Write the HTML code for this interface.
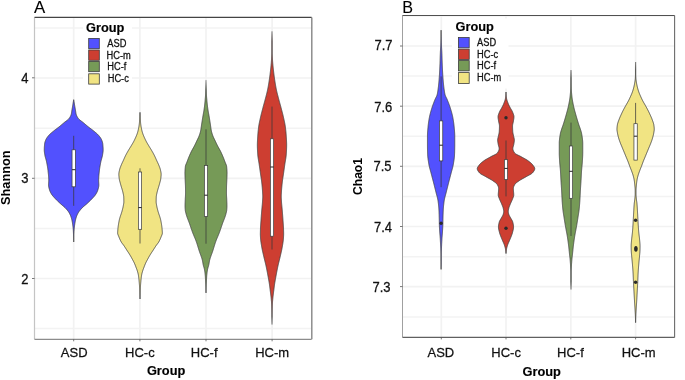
<!DOCTYPE html><html><head><meta charset="utf-8"><style>html,body{margin:0;padding:0;background:#fff;width:685px;height:380px;overflow:hidden}svg{display:block;will-change:transform}</style></head><body>
<svg width="685" height="380" viewBox="0 0 685 380">
<rect width="685" height="380" fill="#fff"/>
<line x1="34.5" y1="28.0" x2="311.6" y2="28.0" stroke="#f3f3f3" stroke-width="1.5"/>
<line x1="34.5" y1="128.2" x2="311.6" y2="128.2" stroke="#f3f3f3" stroke-width="1.5"/>
<line x1="34.5" y1="228.4" x2="311.6" y2="228.4" stroke="#f3f3f3" stroke-width="1.5"/>
<line x1="34.5" y1="328.6" x2="311.6" y2="328.6" stroke="#f3f3f3" stroke-width="1.5"/>
<line x1="34.5" y1="78.0" x2="311.6" y2="78.0" stroke="#f2f2f2" stroke-width="1.7"/>
<line x1="34.5" y1="178.3" x2="311.6" y2="178.3" stroke="#f2f2f2" stroke-width="1.7"/>
<line x1="34.5" y1="278.5" x2="311.6" y2="278.5" stroke="#f2f2f2" stroke-width="1.7"/>
<line x1="73.7" y1="17.4" x2="73.7" y2="339.3" stroke="#f2f2f2" stroke-width="1.7"/>
<line x1="139.9" y1="17.4" x2="139.9" y2="339.3" stroke="#f2f2f2" stroke-width="1.7"/>
<line x1="206.0" y1="17.4" x2="206.0" y2="339.3" stroke="#f2f2f2" stroke-width="1.7"/>
<line x1="272.1" y1="17.4" x2="272.1" y2="339.3" stroke="#f2f2f2" stroke-width="1.7"/>
<linearGradient id="g1" gradientUnits="userSpaceOnUse" x1="0" y1="99.7" x2="0" y2="242"><stop offset="0" stop-color="#404040"/><stop offset="0.0070" stop-color="#404040"/><stop offset="0.9930" stop-color="#404040"/><stop offset="1" stop-color="#404040"/></linearGradient>
<path d="M73.70,99.70 L73.79,100.20 L73.88,100.70 L73.96,101.20 L74.05,101.70 L74.13,102.20 L74.22,102.70 L74.30,103.20 L74.38,103.70 L74.46,104.20 L74.54,104.70 L74.62,105.20 L74.70,105.70 L74.78,106.20 L74.87,106.70 L74.96,107.20 L75.05,107.70 L75.13,108.20 L75.22,108.70 L75.31,109.20 L75.40,109.70 L75.48,110.20 L75.56,110.70 L75.63,111.20 L75.70,111.70 L75.77,112.20 L75.85,112.70 L75.94,113.20 L76.03,113.70 L76.15,114.20 L76.29,114.70 L76.47,115.20 L76.67,115.70 L76.91,116.20 L77.17,116.70 L77.46,117.20 L77.78,117.70 L78.11,118.20 L78.48,118.70 L78.95,119.20 L79.50,119.70 L80.11,120.20 L80.76,120.70 L81.43,121.20 L82.10,121.70 L82.76,122.20 L83.37,122.70 L83.96,123.20 L84.55,123.70 L85.13,124.20 L85.72,124.70 L86.31,125.20 L86.91,125.70 L87.51,126.20 L88.13,126.70 L88.75,127.20 L89.40,127.70 L90.07,128.20 L90.74,128.70 L91.41,129.20 L92.07,129.70 L92.72,130.20 L93.36,130.70 L93.97,131.20 L94.58,131.70 L95.19,132.20 L95.79,132.70 L96.38,133.20 L96.95,133.70 L97.50,134.20 L98.00,134.70 L98.46,135.20 L98.89,135.70 L99.30,136.20 L99.70,136.70 L100.08,137.20 L100.43,137.70 L100.76,138.20 L101.06,138.70 L101.31,139.20 L101.54,139.70 L101.74,140.20 L101.94,140.70 L102.13,141.20 L102.30,141.70 L102.45,142.20 L102.58,142.70 L102.68,143.20 L102.75,143.70 L102.80,144.20 L102.86,144.70 L102.90,145.20 L102.95,145.70 L102.99,146.20 L103.03,146.70 L103.06,147.20 L103.09,147.70 L103.11,148.20 L103.13,148.70 L103.14,149.20 L103.15,149.70 L103.15,150.20 L103.13,150.70 L103.10,151.20 L103.05,151.70 L102.99,152.20 L102.92,152.70 L102.84,153.20 L102.76,153.70 L102.68,154.20 L102.60,154.70 L102.52,155.20 L102.42,155.70 L102.31,156.20 L102.20,156.70 L102.07,157.20 L101.93,157.70 L101.79,158.20 L101.65,158.70 L101.51,159.20 L101.36,159.70 L101.23,160.20 L101.10,160.70 L100.98,161.20 L100.87,161.70 L100.77,162.20 L100.67,162.70 L100.57,163.20 L100.48,163.70 L100.38,164.20 L100.29,164.70 L100.20,165.20 L100.11,165.70 L100.02,166.20 L99.94,166.70 L99.86,167.20 L99.78,167.70 L99.70,168.20 L99.63,168.70 L99.56,169.20 L99.50,169.70 L99.44,170.20 L99.38,170.70 L99.33,171.20 L99.28,171.70 L99.22,172.20 L99.17,172.70 L99.12,173.20 L99.06,173.70 L99.01,174.20 L98.96,174.70 L98.92,175.20 L98.87,175.70 L98.83,176.20 L98.79,176.70 L98.76,177.20 L98.73,177.70 L98.70,178.20 L98.68,178.70 L98.66,179.20 L98.65,179.70 L98.65,180.20 L98.66,180.70 L98.67,181.20 L98.70,181.70 L98.73,182.20 L98.76,182.70 L98.79,183.20 L98.81,183.70 L98.84,184.20 L98.85,184.70 L98.85,185.20 L98.82,185.70 L98.77,186.20 L98.69,186.70 L98.59,187.20 L98.48,187.70 L98.36,188.20 L98.22,188.70 L98.08,189.20 L97.94,189.70 L97.79,190.20 L97.62,190.70 L97.43,191.20 L97.21,191.70 L96.97,192.20 L96.71,192.70 L96.44,193.20 L96.15,193.70 L95.85,194.20 L95.53,194.70 L95.16,195.20 L94.77,195.70 L94.35,196.20 L93.91,196.70 L93.45,197.20 L92.99,197.70 L92.53,198.20 L92.07,198.70 L91.59,199.20 L91.11,199.70 L90.61,200.20 L90.10,200.70 L89.59,201.20 L89.06,201.70 L88.53,202.20 L88.00,202.70 L87.46,203.20 L86.92,203.70 L86.36,204.20 L85.77,204.70 L85.17,205.20 L84.57,205.70 L83.98,206.20 L83.41,206.70 L82.86,207.20 L82.34,207.70 L81.86,208.20 L81.40,208.70 L80.94,209.20 L80.50,209.70 L80.08,210.20 L79.67,210.70 L79.28,211.20 L78.92,211.70 L78.59,212.20 L78.29,212.70 L78.01,213.20 L77.75,213.70 L77.49,214.20 L77.26,214.70 L77.03,215.20 L76.82,215.70 L76.63,216.20 L76.45,216.70 L76.29,217.20 L76.13,217.70 L75.98,218.20 L75.84,218.70 L75.71,219.20 L75.58,219.70 L75.47,220.20 L75.36,220.70 L75.26,221.20 L75.17,221.70 L75.08,222.20 L75.00,222.70 L74.92,223.20 L74.84,223.70 L74.77,224.20 L74.69,224.70 L74.62,225.20 L74.56,225.70 L74.49,226.20 L74.43,226.70 L74.37,227.20 L74.31,227.70 L74.26,228.20 L74.22,228.70 L74.17,229.20 L74.13,229.70 L74.10,230.20 L74.07,230.70 L74.04,231.20 L74.01,231.70 L73.99,232.20 L73.97,232.70 L73.94,233.20 L73.92,233.70 L73.90,234.20 L73.87,234.70 L73.85,235.20 L73.83,235.70 L73.82,236.20 L73.80,236.70 L73.78,237.20 L73.77,237.70 L73.75,238.20 L73.74,238.70 L73.73,239.20 L73.72,239.70 L73.71,240.20 L73.71,240.70 L73.70,241.20 L73.70,241.70 L73.70,242.00 L73.70,242.00 L73.70,241.70 L73.70,241.20 L73.69,240.70 L73.69,240.20 L73.68,239.70 L73.67,239.20 L73.66,238.70 L73.65,238.20 L73.63,237.70 L73.62,237.20 L73.60,236.70 L73.58,236.20 L73.57,235.70 L73.55,235.20 L73.53,234.70 L73.50,234.20 L73.48,233.70 L73.46,233.20 L73.43,232.70 L73.41,232.20 L73.39,231.70 L73.36,231.20 L73.33,230.70 L73.30,230.20 L73.27,229.70 L73.23,229.20 L73.18,228.70 L73.14,228.20 L73.09,227.70 L73.03,227.20 L72.97,226.70 L72.91,226.20 L72.84,225.70 L72.78,225.20 L72.71,224.70 L72.63,224.20 L72.56,223.70 L72.48,223.20 L72.40,222.70 L72.32,222.20 L72.23,221.70 L72.14,221.20 L72.04,220.70 L71.93,220.20 L71.82,219.70 L71.69,219.20 L71.56,218.70 L71.42,218.20 L71.27,217.70 L71.11,217.20 L70.95,216.70 L70.77,216.20 L70.58,215.70 L70.37,215.20 L70.14,214.70 L69.91,214.20 L69.65,213.70 L69.39,213.20 L69.11,212.70 L68.81,212.20 L68.48,211.70 L68.12,211.20 L67.73,210.70 L67.32,210.20 L66.90,209.70 L66.46,209.20 L66.00,208.70 L65.54,208.20 L65.06,207.70 L64.54,207.20 L63.99,206.70 L63.42,206.20 L62.83,205.70 L62.23,205.20 L61.63,204.70 L61.04,204.20 L60.48,203.70 L59.94,203.20 L59.40,202.70 L58.87,202.20 L58.34,201.70 L57.81,201.20 L57.30,200.70 L56.79,200.20 L56.29,199.70 L55.81,199.20 L55.33,198.70 L54.87,198.20 L54.41,197.70 L53.95,197.20 L53.49,196.70 L53.05,196.20 L52.63,195.70 L52.24,195.20 L51.87,194.70 L51.55,194.20 L51.25,193.70 L50.96,193.20 L50.69,192.70 L50.43,192.20 L50.19,191.70 L49.97,191.20 L49.78,190.70 L49.61,190.20 L49.46,189.70 L49.32,189.20 L49.18,188.70 L49.04,188.20 L48.92,187.70 L48.81,187.20 L48.71,186.70 L48.63,186.20 L48.58,185.70 L48.55,185.20 L48.55,184.70 L48.56,184.20 L48.59,183.70 L48.61,183.20 L48.64,182.70 L48.67,182.20 L48.70,181.70 L48.73,181.20 L48.74,180.70 L48.75,180.20 L48.75,179.70 L48.74,179.20 L48.72,178.70 L48.70,178.20 L48.67,177.70 L48.64,177.20 L48.61,176.70 L48.57,176.20 L48.53,175.70 L48.48,175.20 L48.44,174.70 L48.39,174.20 L48.34,173.70 L48.28,173.20 L48.23,172.70 L48.18,172.20 L48.12,171.70 L48.07,171.20 L48.02,170.70 L47.96,170.20 L47.90,169.70 L47.84,169.20 L47.77,168.70 L47.70,168.20 L47.62,167.70 L47.54,167.20 L47.46,166.70 L47.38,166.20 L47.29,165.70 L47.20,165.20 L47.11,164.70 L47.02,164.20 L46.92,163.70 L46.83,163.20 L46.73,162.70 L46.63,162.20 L46.53,161.70 L46.42,161.20 L46.30,160.70 L46.17,160.20 L46.04,159.70 L45.89,159.20 L45.75,158.70 L45.61,158.20 L45.47,157.70 L45.33,157.20 L45.20,156.70 L45.09,156.20 L44.98,155.70 L44.88,155.20 L44.80,154.70 L44.72,154.20 L44.64,153.70 L44.56,153.20 L44.48,152.70 L44.41,152.20 L44.35,151.70 L44.30,151.20 L44.27,150.70 L44.25,150.20 L44.25,149.70 L44.26,149.20 L44.27,148.70 L44.29,148.20 L44.31,147.70 L44.34,147.20 L44.37,146.70 L44.41,146.20 L44.45,145.70 L44.50,145.20 L44.54,144.70 L44.60,144.20 L44.65,143.70 L44.72,143.20 L44.82,142.70 L44.95,142.20 L45.10,141.70 L45.27,141.20 L45.46,140.70 L45.66,140.20 L45.86,139.70 L46.09,139.20 L46.34,138.70 L46.64,138.20 L46.97,137.70 L47.32,137.20 L47.70,136.70 L48.10,136.20 L48.51,135.70 L48.94,135.20 L49.40,134.70 L49.90,134.20 L50.45,133.70 L51.02,133.20 L51.61,132.70 L52.21,132.20 L52.82,131.70 L53.43,131.20 L54.04,130.70 L54.68,130.20 L55.33,129.70 L55.99,129.20 L56.66,128.70 L57.33,128.20 L58.00,127.70 L58.65,127.20 L59.27,126.70 L59.89,126.20 L60.49,125.70 L61.09,125.20 L61.68,124.70 L62.27,124.20 L62.85,123.70 L63.44,123.20 L64.03,122.70 L64.64,122.20 L65.30,121.70 L65.97,121.20 L66.64,120.70 L67.29,120.20 L67.90,119.70 L68.45,119.20 L68.92,118.70 L69.29,118.20 L69.62,117.70 L69.94,117.20 L70.23,116.70 L70.49,116.20 L70.73,115.70 L70.93,115.20 L71.11,114.70 L71.25,114.20 L71.37,113.70 L71.46,113.20 L71.55,112.70 L71.63,112.20 L71.70,111.70 L71.77,111.20 L71.84,110.70 L71.92,110.20 L72.00,109.70 L72.09,109.20 L72.18,108.70 L72.27,108.20 L72.35,107.70 L72.44,107.20 L72.53,106.70 L72.62,106.20 L72.70,105.70 L72.78,105.20 L72.86,104.70 L72.94,104.20 L73.02,103.70 L73.10,103.20 L73.18,102.70 L73.27,102.20 L73.35,101.70 L73.44,101.20 L73.52,100.70 L73.61,100.20 L73.70,99.70Z" fill="#5251fe" stroke="url(#g1)" stroke-width="0.85" stroke-linejoin="round"/>
<line x1="73.7" y1="135.8" x2="73.7" y2="205.8" stroke="#3a3a3a" stroke-width="0.75"/>
<rect x="72.05" y="149.8" width="3.3" height="37.00" fill="#fff" stroke="#3a3a3a" stroke-width="0.7"/>
<line x1="72.05" y1="169.7" x2="75.35" y2="169.7" stroke="#222" stroke-width="1.0"/>
<linearGradient id="g2" gradientUnits="userSpaceOnUse" x1="0" y1="112.4" x2="0" y2="299"><stop offset="0" stop-color="#404040"/><stop offset="0.0054" stop-color="#404040"/><stop offset="0.9946" stop-color="#404040"/><stop offset="1" stop-color="#404040"/></linearGradient>
<path d="M140.00,112.40 L140.02,112.90 L140.03,113.40 L140.05,113.90 L140.07,114.40 L140.09,114.90 L140.12,115.40 L140.14,115.90 L140.16,116.40 L140.19,116.90 L140.22,117.40 L140.24,117.90 L140.27,118.40 L140.30,118.90 L140.33,119.40 L140.36,119.90 L140.40,120.40 L140.43,120.90 L140.47,121.40 L140.51,121.90 L140.56,122.40 L140.60,122.90 L140.65,123.40 L140.70,123.90 L140.76,124.40 L140.83,124.90 L140.90,125.40 L140.98,125.90 L141.06,126.40 L141.15,126.90 L141.24,127.40 L141.33,127.90 L141.43,128.40 L141.53,128.90 L141.63,129.40 L141.74,129.90 L141.86,130.40 L141.98,130.90 L142.11,131.40 L142.25,131.90 L142.39,132.40 L142.54,132.90 L142.71,133.40 L142.88,133.90 L143.07,134.40 L143.27,134.90 L143.47,135.40 L143.68,135.90 L143.89,136.40 L144.11,136.90 L144.32,137.40 L144.54,137.90 L144.77,138.40 L145.00,138.90 L145.24,139.40 L145.48,139.90 L145.73,140.40 L145.98,140.90 L146.24,141.40 L146.50,141.90 L146.77,142.40 L147.06,142.90 L147.35,143.40 L147.64,143.90 L147.94,144.40 L148.24,144.90 L148.55,145.40 L148.85,145.90 L149.15,146.40 L149.45,146.90 L149.76,147.40 L150.07,147.90 L150.38,148.40 L150.69,148.90 L151.00,149.40 L151.30,149.90 L151.60,150.40 L151.89,150.90 L152.18,151.40 L152.46,151.90 L152.75,152.40 L153.02,152.90 L153.30,153.40 L153.57,153.90 L153.84,154.40 L154.10,154.90 L154.35,155.40 L154.60,155.90 L154.84,156.40 L155.07,156.90 L155.30,157.40 L155.52,157.90 L155.74,158.40 L155.97,158.90 L156.19,159.40 L156.41,159.90 L156.64,160.40 L156.88,160.90 L157.11,161.40 L157.35,161.90 L157.59,162.40 L157.83,162.90 L158.06,163.40 L158.28,163.90 L158.50,164.40 L158.71,164.90 L158.91,165.40 L159.11,165.90 L159.31,166.40 L159.51,166.90 L159.70,167.40 L159.88,167.90 L160.05,168.40 L160.20,168.90 L160.33,169.40 L160.44,169.90 L160.56,170.40 L160.68,170.90 L160.79,171.40 L160.90,171.90 L160.99,172.40 L161.06,172.90 L161.11,173.40 L161.14,173.90 L161.15,174.40 L161.14,174.90 L161.11,175.40 L161.08,175.90 L161.03,176.40 L160.98,176.90 L160.93,177.40 L160.86,177.90 L160.80,178.40 L160.74,178.90 L160.66,179.40 L160.56,179.90 L160.45,180.40 L160.33,180.90 L160.19,181.40 L160.06,181.90 L159.92,182.40 L159.78,182.90 L159.65,183.40 L159.52,183.90 L159.38,184.40 L159.24,184.90 L159.09,185.40 L158.94,185.90 L158.79,186.40 L158.64,186.90 L158.49,187.40 L158.33,187.90 L158.18,188.40 L158.03,188.90 L157.88,189.40 L157.74,189.90 L157.60,190.40 L157.46,190.90 L157.33,191.40 L157.21,191.90 L157.09,192.40 L156.98,192.90 L156.87,193.40 L156.75,193.90 L156.64,194.40 L156.53,194.90 L156.44,195.40 L156.35,195.90 L156.29,196.40 L156.25,196.90 L156.24,197.40 L156.22,197.90 L156.20,198.40 L156.19,198.90 L156.18,199.40 L156.17,199.90 L156.16,200.40 L156.15,200.90 L156.15,201.40 L156.15,201.90 L156.17,202.40 L156.21,202.90 L156.28,203.40 L156.36,203.90 L156.45,204.40 L156.54,204.90 L156.64,205.40 L156.73,205.90 L156.82,206.40 L156.92,206.90 L157.03,207.40 L157.15,207.90 L157.27,208.40 L157.40,208.90 L157.53,209.40 L157.66,209.90 L157.79,210.40 L157.92,210.90 L158.06,211.40 L158.20,211.90 L158.36,212.40 L158.51,212.90 L158.68,213.40 L158.84,213.90 L159.01,214.40 L159.18,214.90 L159.36,215.40 L159.52,215.90 L159.69,216.40 L159.86,216.90 L160.01,217.40 L160.17,217.90 L160.31,218.40 L160.45,218.90 L160.57,219.40 L160.69,219.90 L160.79,220.40 L160.89,220.90 L160.99,221.40 L161.08,221.90 L161.18,222.40 L161.27,222.90 L161.35,223.40 L161.44,223.90 L161.52,224.40 L161.60,224.90 L161.68,225.40 L161.75,225.90 L161.82,226.40 L161.88,226.90 L161.94,227.40 L162.00,227.90 L162.05,228.40 L162.10,228.90 L162.14,229.40 L162.18,229.90 L162.22,230.40 L162.26,230.90 L162.29,231.40 L162.32,231.90 L162.34,232.40 L162.35,232.90 L162.33,233.40 L162.24,233.90 L162.10,234.40 L161.93,234.90 L161.73,235.40 L161.51,235.90 L161.29,236.40 L161.09,236.90 L160.90,237.40 L160.70,237.90 L160.49,238.40 L160.28,238.90 L160.06,239.40 L159.83,239.90 L159.59,240.40 L159.33,240.90 L159.07,241.40 L158.79,241.90 L158.49,242.40 L158.15,242.90 L157.79,243.40 L157.41,243.90 L157.03,244.40 L156.65,244.90 L156.27,245.40 L155.92,245.90 L155.58,246.40 L155.25,246.90 L154.93,247.40 L154.61,247.90 L154.29,248.40 L153.98,248.90 L153.66,249.40 L153.34,249.90 L153.02,250.40 L152.69,250.90 L152.36,251.40 L152.03,251.90 L151.70,252.40 L151.37,252.90 L151.04,253.40 L150.72,253.90 L150.41,254.40 L150.11,254.90 L149.81,255.40 L149.52,255.90 L149.23,256.40 L148.95,256.90 L148.67,257.40 L148.39,257.90 L148.11,258.40 L147.84,258.90 L147.57,259.40 L147.29,259.90 L147.02,260.40 L146.75,260.90 L146.49,261.40 L146.23,261.90 L145.98,262.40 L145.75,262.90 L145.53,263.40 L145.31,263.90 L145.10,264.40 L144.90,264.90 L144.70,265.40 L144.51,265.90 L144.32,266.40 L144.13,266.90 L143.94,267.40 L143.74,267.90 L143.55,268.40 L143.36,268.90 L143.18,269.40 L143.00,269.90 L142.83,270.40 L142.67,270.90 L142.52,271.40 L142.38,271.90 L142.24,272.40 L142.11,272.90 L141.98,273.40 L141.86,273.90 L141.75,274.40 L141.65,274.90 L141.57,275.40 L141.49,275.90 L141.42,276.40 L141.35,276.90 L141.29,277.40 L141.22,277.90 L141.16,278.40 L141.11,278.90 L141.05,279.40 L141.00,279.90 L140.95,280.40 L140.90,280.90 L140.86,281.40 L140.81,281.90 L140.77,282.40 L140.73,282.90 L140.69,283.40 L140.65,283.90 L140.61,284.40 L140.57,284.90 L140.54,285.40 L140.50,285.90 L140.46,286.40 L140.43,286.90 L140.39,287.40 L140.36,287.90 L140.33,288.40 L140.30,288.90 L140.27,289.40 L140.24,289.90 L140.21,290.40 L140.19,290.90 L140.17,291.40 L140.15,291.90 L140.14,292.40 L140.12,292.90 L140.11,293.40 L140.09,293.90 L140.08,294.40 L140.06,294.90 L140.05,295.40 L140.04,295.90 L140.03,296.40 L140.02,296.90 L140.01,297.40 L140.01,297.90 L140.00,298.40 L140.00,298.90 L140.00,299.00 L140.00,299.00 L140.00,298.90 L140.00,298.40 L139.99,297.90 L139.99,297.40 L139.98,296.90 L139.97,296.40 L139.96,295.90 L139.95,295.40 L139.94,294.90 L139.92,294.40 L139.91,293.90 L139.89,293.40 L139.88,292.90 L139.86,292.40 L139.85,291.90 L139.83,291.40 L139.81,290.90 L139.79,290.40 L139.76,289.90 L139.73,289.40 L139.70,288.90 L139.67,288.40 L139.64,287.90 L139.61,287.40 L139.57,286.90 L139.54,286.40 L139.50,285.90 L139.46,285.40 L139.43,284.90 L139.39,284.40 L139.35,283.90 L139.31,283.40 L139.27,282.90 L139.23,282.40 L139.19,281.90 L139.14,281.40 L139.10,280.90 L139.05,280.40 L139.00,279.90 L138.95,279.40 L138.89,278.90 L138.84,278.40 L138.78,277.90 L138.71,277.40 L138.65,276.90 L138.58,276.40 L138.51,275.90 L138.43,275.40 L138.35,274.90 L138.25,274.40 L138.14,273.90 L138.02,273.40 L137.89,272.90 L137.76,272.40 L137.62,271.90 L137.48,271.40 L137.33,270.90 L137.17,270.40 L137.00,269.90 L136.82,269.40 L136.64,268.90 L136.45,268.40 L136.26,267.90 L136.06,267.40 L135.87,266.90 L135.68,266.40 L135.49,265.90 L135.30,265.40 L135.10,264.90 L134.90,264.40 L134.69,263.90 L134.47,263.40 L134.25,262.90 L134.02,262.40 L133.77,261.90 L133.51,261.40 L133.25,260.90 L132.98,260.40 L132.71,259.90 L132.43,259.40 L132.16,258.90 L131.89,258.40 L131.61,257.90 L131.33,257.40 L131.05,256.90 L130.77,256.40 L130.48,255.90 L130.19,255.40 L129.89,254.90 L129.59,254.40 L129.28,253.90 L128.96,253.40 L128.63,252.90 L128.30,252.40 L127.97,251.90 L127.64,251.40 L127.31,250.90 L126.98,250.40 L126.66,249.90 L126.34,249.40 L126.02,248.90 L125.71,248.40 L125.39,247.90 L125.07,247.40 L124.75,246.90 L124.42,246.40 L124.08,245.90 L123.73,245.40 L123.35,244.90 L122.97,244.40 L122.59,243.90 L122.21,243.40 L121.85,242.90 L121.51,242.40 L121.21,241.90 L120.93,241.40 L120.67,240.90 L120.41,240.40 L120.17,239.90 L119.94,239.40 L119.72,238.90 L119.51,238.40 L119.30,237.90 L119.10,237.40 L118.91,236.90 L118.71,236.40 L118.49,235.90 L118.27,235.40 L118.07,234.90 L117.90,234.40 L117.76,233.90 L117.67,233.40 L117.65,232.90 L117.66,232.40 L117.68,231.90 L117.71,231.40 L117.74,230.90 L117.78,230.40 L117.82,229.90 L117.86,229.40 L117.90,228.90 L117.95,228.40 L118.00,227.90 L118.06,227.40 L118.12,226.90 L118.18,226.40 L118.25,225.90 L118.32,225.40 L118.40,224.90 L118.48,224.40 L118.56,223.90 L118.65,223.40 L118.73,222.90 L118.82,222.40 L118.92,221.90 L119.01,221.40 L119.11,220.90 L119.21,220.40 L119.31,219.90 L119.43,219.40 L119.55,218.90 L119.69,218.40 L119.83,217.90 L119.99,217.40 L120.14,216.90 L120.31,216.40 L120.48,215.90 L120.64,215.40 L120.82,214.90 L120.99,214.40 L121.16,213.90 L121.32,213.40 L121.49,212.90 L121.64,212.40 L121.80,211.90 L121.94,211.40 L122.08,210.90 L122.21,210.40 L122.34,209.90 L122.47,209.40 L122.60,208.90 L122.73,208.40 L122.85,207.90 L122.97,207.40 L123.08,206.90 L123.18,206.40 L123.27,205.90 L123.36,205.40 L123.46,204.90 L123.55,204.40 L123.64,203.90 L123.72,203.40 L123.79,202.90 L123.83,202.40 L123.85,201.90 L123.85,201.40 L123.85,200.90 L123.84,200.40 L123.83,199.90 L123.82,199.40 L123.81,198.90 L123.80,198.40 L123.78,197.90 L123.76,197.40 L123.75,196.90 L123.71,196.40 L123.65,195.90 L123.56,195.40 L123.47,194.90 L123.36,194.40 L123.25,193.90 L123.13,193.40 L123.02,192.90 L122.91,192.40 L122.79,191.90 L122.67,191.40 L122.54,190.90 L122.40,190.40 L122.26,189.90 L122.12,189.40 L121.97,188.90 L121.82,188.40 L121.67,187.90 L121.51,187.40 L121.36,186.90 L121.21,186.40 L121.06,185.90 L120.91,185.40 L120.76,184.90 L120.62,184.40 L120.48,183.90 L120.35,183.40 L120.22,182.90 L120.08,182.40 L119.94,181.90 L119.81,181.40 L119.67,180.90 L119.55,180.40 L119.44,179.90 L119.34,179.40 L119.26,178.90 L119.20,178.40 L119.14,177.90 L119.07,177.40 L119.02,176.90 L118.97,176.40 L118.92,175.90 L118.89,175.40 L118.86,174.90 L118.85,174.40 L118.86,173.90 L118.89,173.40 L118.94,172.90 L119.01,172.40 L119.10,171.90 L119.21,171.40 L119.32,170.90 L119.44,170.40 L119.56,169.90 L119.67,169.40 L119.80,168.90 L119.95,168.40 L120.12,167.90 L120.30,167.40 L120.49,166.90 L120.69,166.40 L120.89,165.90 L121.09,165.40 L121.29,164.90 L121.50,164.40 L121.72,163.90 L121.94,163.40 L122.17,162.90 L122.41,162.40 L122.65,161.90 L122.89,161.40 L123.12,160.90 L123.36,160.40 L123.59,159.90 L123.81,159.40 L124.03,158.90 L124.26,158.40 L124.48,157.90 L124.70,157.40 L124.93,156.90 L125.16,156.40 L125.40,155.90 L125.65,155.40 L125.90,154.90 L126.16,154.40 L126.43,153.90 L126.70,153.40 L126.98,152.90 L127.25,152.40 L127.54,151.90 L127.82,151.40 L128.11,150.90 L128.40,150.40 L128.70,149.90 L129.00,149.40 L129.31,148.90 L129.62,148.40 L129.93,147.90 L130.24,147.40 L130.55,146.90 L130.85,146.40 L131.15,145.90 L131.45,145.40 L131.76,144.90 L132.06,144.40 L132.36,143.90 L132.65,143.40 L132.94,142.90 L133.23,142.40 L133.50,141.90 L133.76,141.40 L134.02,140.90 L134.27,140.40 L134.52,139.90 L134.76,139.40 L135.00,138.90 L135.23,138.40 L135.46,137.90 L135.68,137.40 L135.89,136.90 L136.11,136.40 L136.32,135.90 L136.53,135.40 L136.73,134.90 L136.93,134.40 L137.12,133.90 L137.29,133.40 L137.46,132.90 L137.61,132.40 L137.75,131.90 L137.89,131.40 L138.02,130.90 L138.14,130.40 L138.26,129.90 L138.37,129.40 L138.47,128.90 L138.57,128.40 L138.67,127.90 L138.76,127.40 L138.85,126.90 L138.94,126.40 L139.02,125.90 L139.10,125.40 L139.17,124.90 L139.24,124.40 L139.30,123.90 L139.35,123.40 L139.40,122.90 L139.44,122.40 L139.49,121.90 L139.53,121.40 L139.57,120.90 L139.60,120.40 L139.64,119.90 L139.67,119.40 L139.70,118.90 L139.73,118.40 L139.76,117.90 L139.78,117.40 L139.81,116.90 L139.84,116.40 L139.86,115.90 L139.88,115.40 L139.91,114.90 L139.93,114.40 L139.95,113.90 L139.97,113.40 L139.98,112.90 L140.00,112.40Z" fill="#f1e483" stroke="url(#g2)" stroke-width="0.85" stroke-linejoin="round"/>
<line x1="140.0" y1="168.3" x2="140.0" y2="243.5" stroke="#3a3a3a" stroke-width="0.75"/>
<rect x="138.35" y="172.0" width="3.3" height="57.30" fill="#fff" stroke="#3a3a3a" stroke-width="0.7"/>
<line x1="138.35" y1="207.6" x2="141.65" y2="207.6" stroke="#222" stroke-width="1.0"/>
<linearGradient id="g3" gradientUnits="userSpaceOnUse" x1="0" y1="80.1" x2="0" y2="292.9"><stop offset="0" stop-color="#a0a0a0"/><stop offset="0.0470" stop-color="#404040"/><stop offset="0.9953" stop-color="#404040"/><stop offset="1" stop-color="#404040"/></linearGradient>
<path d="M206.00,80.10 L206.01,80.60 L206.02,81.10 L206.03,81.60 L206.03,82.10 L206.04,82.60 L206.05,83.10 L206.06,83.60 L206.08,84.10 L206.09,84.60 L206.10,85.10 L206.11,85.60 L206.12,86.10 L206.13,86.60 L206.15,87.10 L206.16,87.60 L206.17,88.10 L206.19,88.60 L206.20,89.10 L206.21,89.60 L206.23,90.10 L206.24,90.60 L206.26,91.10 L206.28,91.60 L206.30,92.10 L206.32,92.60 L206.34,93.10 L206.36,93.60 L206.38,94.10 L206.41,94.60 L206.45,95.10 L206.48,95.60 L206.52,96.10 L206.56,96.60 L206.60,97.10 L206.64,97.60 L206.68,98.10 L206.73,98.60 L206.77,99.10 L206.82,99.60 L206.86,100.10 L206.90,100.60 L206.95,101.10 L206.99,101.60 L207.04,102.10 L207.09,102.60 L207.14,103.10 L207.19,103.60 L207.24,104.10 L207.30,104.60 L207.35,105.10 L207.41,105.60 L207.47,106.10 L207.53,106.60 L207.59,107.10 L207.66,107.60 L207.73,108.10 L207.80,108.60 L207.87,109.10 L207.94,109.60 L208.01,110.10 L208.09,110.60 L208.17,111.10 L208.25,111.60 L208.33,112.10 L208.42,112.60 L208.52,113.10 L208.61,113.60 L208.70,114.10 L208.80,114.60 L208.89,115.10 L208.98,115.60 L209.07,116.10 L209.15,116.60 L209.23,117.10 L209.31,117.60 L209.39,118.10 L209.47,118.60 L209.55,119.10 L209.63,119.60 L209.71,120.10 L209.79,120.60 L209.87,121.10 L209.94,121.60 L210.02,122.10 L210.10,122.60 L210.18,123.10 L210.26,123.60 L210.34,124.10 L210.41,124.60 L210.49,125.10 L210.56,125.60 L210.64,126.10 L210.70,126.60 L210.77,127.10 L210.84,127.60 L210.90,128.10 L210.97,128.60 L211.05,129.10 L211.13,129.60 L211.21,130.10 L211.31,130.60 L211.42,131.10 L211.54,131.60 L211.66,132.10 L211.80,132.60 L211.94,133.10 L212.09,133.60 L212.25,134.10 L212.42,134.60 L212.58,135.10 L212.77,135.60 L212.96,136.10 L213.17,136.60 L213.39,137.10 L213.62,137.60 L213.85,138.10 L214.09,138.60 L214.34,139.10 L214.58,139.60 L214.82,140.10 L215.06,140.60 L215.29,141.10 L215.52,141.60 L215.76,142.10 L215.99,142.60 L216.23,143.10 L216.46,143.60 L216.71,144.10 L216.95,144.60 L217.20,145.10 L217.45,145.60 L217.70,146.10 L217.96,146.60 L218.24,147.10 L218.52,147.60 L218.80,148.10 L219.08,148.60 L219.37,149.10 L219.65,149.60 L219.92,150.10 L220.19,150.60 L220.45,151.10 L220.70,151.60 L220.94,152.10 L221.18,152.60 L221.41,153.10 L221.64,153.60 L221.87,154.10 L222.09,154.60 L222.31,155.10 L222.53,155.60 L222.74,156.10 L222.95,156.60 L223.16,157.10 L223.36,157.60 L223.56,158.10 L223.75,158.60 L223.94,159.10 L224.13,159.60 L224.32,160.10 L224.51,160.60 L224.69,161.10 L224.88,161.60 L225.06,162.10 L225.27,162.60 L225.48,163.10 L225.70,163.60 L225.92,164.10 L226.12,164.60 L226.30,165.10 L226.45,165.60 L226.57,166.10 L226.65,166.60 L226.70,167.10 L226.75,167.60 L226.80,168.10 L226.84,168.60 L226.88,169.10 L226.92,169.60 L226.95,170.10 L226.98,170.60 L227.00,171.10 L227.02,171.60 L227.04,172.10 L227.05,172.60 L227.05,173.10 L227.05,173.60 L227.04,174.10 L227.03,174.60 L227.02,175.10 L227.01,175.60 L226.99,176.10 L226.97,176.60 L226.95,177.10 L226.93,177.60 L226.91,178.10 L226.89,178.60 L226.87,179.10 L226.85,179.60 L226.83,180.10 L226.81,180.60 L226.79,181.10 L226.76,181.60 L226.74,182.10 L226.71,182.60 L226.68,183.10 L226.66,183.60 L226.63,184.10 L226.61,184.60 L226.59,185.10 L226.57,185.60 L226.55,186.10 L226.54,186.60 L226.53,187.10 L226.52,187.60 L226.51,188.10 L226.50,188.60 L226.49,189.10 L226.48,189.60 L226.47,190.10 L226.47,190.60 L226.46,191.10 L226.46,191.60 L226.45,192.10 L226.45,192.60 L226.45,193.10 L226.46,193.60 L226.47,194.10 L226.49,194.60 L226.51,195.10 L226.54,195.60 L226.56,196.10 L226.59,196.60 L226.62,197.10 L226.65,197.60 L226.68,198.10 L226.71,198.60 L226.73,199.10 L226.75,199.60 L226.77,200.10 L226.79,200.60 L226.81,201.10 L226.83,201.60 L226.85,202.10 L226.87,202.60 L226.89,203.10 L226.91,203.60 L226.92,204.10 L226.93,204.60 L226.94,205.10 L226.95,205.60 L226.95,206.10 L226.94,206.60 L226.93,207.10 L226.91,207.60 L226.88,208.10 L226.85,208.60 L226.82,209.10 L226.78,209.60 L226.74,210.10 L226.68,210.60 L226.60,211.10 L226.51,211.60 L226.39,212.10 L226.27,212.60 L226.14,213.10 L226.01,213.60 L225.88,214.10 L225.74,214.60 L225.60,215.10 L225.45,215.60 L225.28,216.10 L225.12,216.60 L224.94,217.10 L224.76,217.60 L224.57,218.10 L224.38,218.60 L224.19,219.10 L224.00,219.60 L223.80,220.10 L223.61,220.60 L223.41,221.10 L223.22,221.60 L223.03,222.10 L222.84,222.60 L222.66,223.10 L222.48,223.60 L222.30,224.10 L222.13,224.60 L221.96,225.10 L221.79,225.60 L221.62,226.10 L221.45,226.60 L221.28,227.10 L221.11,227.60 L220.94,228.10 L220.77,228.60 L220.60,229.10 L220.42,229.60 L220.25,230.10 L220.07,230.60 L219.90,231.10 L219.72,231.60 L219.54,232.10 L219.35,232.60 L219.16,233.10 L218.97,233.60 L218.77,234.10 L218.56,234.60 L218.36,235.10 L218.15,235.60 L217.94,236.10 L217.73,236.60 L217.52,237.10 L217.31,237.60 L217.10,238.10 L216.89,238.60 L216.69,239.10 L216.48,239.60 L216.29,240.10 L216.09,240.60 L215.90,241.10 L215.72,241.60 L215.54,242.10 L215.37,242.60 L215.21,243.10 L215.04,243.60 L214.88,244.10 L214.72,244.60 L214.57,245.10 L214.41,245.60 L214.26,246.10 L214.11,246.60 L213.96,247.10 L213.81,247.60 L213.65,248.10 L213.50,248.60 L213.35,249.10 L213.19,249.60 L213.04,250.10 L212.88,250.60 L212.72,251.10 L212.55,251.60 L212.38,252.10 L212.20,252.60 L212.02,253.10 L211.83,253.60 L211.65,254.10 L211.46,254.60 L211.28,255.10 L211.09,255.60 L210.91,256.10 L210.74,256.60 L210.56,257.10 L210.39,257.60 L210.23,258.10 L210.08,258.60 L209.93,259.10 L209.80,259.60 L209.67,260.10 L209.56,260.60 L209.46,261.10 L209.36,261.60 L209.28,262.10 L209.19,262.60 L209.11,263.10 L209.02,263.60 L208.93,264.10 L208.83,264.60 L208.73,265.10 L208.60,265.60 L208.47,266.10 L208.32,266.60 L208.17,267.10 L208.02,267.60 L207.88,268.10 L207.75,268.60 L207.63,269.10 L207.53,269.60 L207.44,270.10 L207.36,270.60 L207.28,271.10 L207.20,271.60 L207.13,272.10 L207.06,272.60 L207.00,273.10 L206.94,273.60 L206.88,274.10 L206.83,274.60 L206.78,275.10 L206.74,275.60 L206.71,276.10 L206.67,276.60 L206.64,277.10 L206.61,277.60 L206.59,278.10 L206.56,278.60 L206.54,279.10 L206.51,279.60 L206.49,280.10 L206.46,280.60 L206.43,281.10 L206.40,281.60 L206.37,282.10 L206.34,282.60 L206.30,283.10 L206.27,283.60 L206.24,284.10 L206.21,284.60 L206.19,285.10 L206.16,285.60 L206.15,286.10 L206.13,286.60 L206.11,287.10 L206.10,287.60 L206.08,288.10 L206.07,288.60 L206.06,289.10 L206.04,289.60 L206.03,290.10 L206.02,290.60 L206.02,291.10 L206.01,291.60 L206.00,292.10 L206.00,292.60 L206.00,292.90 L206.00,292.90 L206.00,292.60 L206.00,292.10 L205.99,291.60 L205.98,291.10 L205.98,290.60 L205.97,290.10 L205.96,289.60 L205.94,289.10 L205.93,288.60 L205.92,288.10 L205.90,287.60 L205.89,287.10 L205.87,286.60 L205.85,286.10 L205.84,285.60 L205.81,285.10 L205.79,284.60 L205.76,284.10 L205.73,283.60 L205.70,283.10 L205.66,282.60 L205.63,282.10 L205.60,281.60 L205.57,281.10 L205.54,280.60 L205.51,280.10 L205.49,279.60 L205.46,279.10 L205.44,278.60 L205.41,278.10 L205.39,277.60 L205.36,277.10 L205.33,276.60 L205.29,276.10 L205.26,275.60 L205.22,275.10 L205.17,274.60 L205.12,274.10 L205.06,273.60 L205.00,273.10 L204.94,272.60 L204.87,272.10 L204.80,271.60 L204.72,271.10 L204.64,270.60 L204.56,270.10 L204.47,269.60 L204.37,269.10 L204.25,268.60 L204.12,268.10 L203.98,267.60 L203.83,267.10 L203.68,266.60 L203.53,266.10 L203.40,265.60 L203.27,265.10 L203.17,264.60 L203.07,264.10 L202.98,263.60 L202.89,263.10 L202.81,262.60 L202.72,262.10 L202.64,261.60 L202.54,261.10 L202.44,260.60 L202.33,260.10 L202.20,259.60 L202.07,259.10 L201.92,258.60 L201.77,258.10 L201.61,257.60 L201.44,257.10 L201.26,256.60 L201.09,256.10 L200.91,255.60 L200.72,255.10 L200.54,254.60 L200.35,254.10 L200.17,253.60 L199.98,253.10 L199.80,252.60 L199.62,252.10 L199.45,251.60 L199.28,251.10 L199.12,250.60 L198.96,250.10 L198.81,249.60 L198.65,249.10 L198.50,248.60 L198.35,248.10 L198.19,247.60 L198.04,247.10 L197.89,246.60 L197.74,246.10 L197.59,245.60 L197.43,245.10 L197.28,244.60 L197.12,244.10 L196.96,243.60 L196.79,243.10 L196.63,242.60 L196.46,242.10 L196.28,241.60 L196.10,241.10 L195.91,240.60 L195.71,240.10 L195.52,239.60 L195.31,239.10 L195.11,238.60 L194.90,238.10 L194.69,237.60 L194.48,237.10 L194.27,236.60 L194.06,236.10 L193.85,235.60 L193.64,235.10 L193.44,234.60 L193.23,234.10 L193.03,233.60 L192.84,233.10 L192.65,232.60 L192.46,232.10 L192.28,231.60 L192.10,231.10 L191.93,230.60 L191.75,230.10 L191.58,229.60 L191.40,229.10 L191.23,228.60 L191.06,228.10 L190.89,227.60 L190.72,227.10 L190.55,226.60 L190.38,226.10 L190.21,225.60 L190.04,225.10 L189.87,224.60 L189.70,224.10 L189.52,223.60 L189.34,223.10 L189.16,222.60 L188.97,222.10 L188.78,221.60 L188.59,221.10 L188.39,220.60 L188.20,220.10 L188.00,219.60 L187.81,219.10 L187.62,218.60 L187.43,218.10 L187.24,217.60 L187.06,217.10 L186.88,216.60 L186.72,216.10 L186.55,215.60 L186.40,215.10 L186.26,214.60 L186.12,214.10 L185.99,213.60 L185.86,213.10 L185.73,212.60 L185.61,212.10 L185.49,211.60 L185.40,211.10 L185.32,210.60 L185.26,210.10 L185.22,209.60 L185.18,209.10 L185.15,208.60 L185.12,208.10 L185.09,207.60 L185.07,207.10 L185.06,206.60 L185.05,206.10 L185.05,205.60 L185.06,205.10 L185.07,204.60 L185.08,204.10 L185.09,203.60 L185.11,203.10 L185.13,202.60 L185.15,202.10 L185.17,201.60 L185.19,201.10 L185.21,200.60 L185.23,200.10 L185.25,199.60 L185.27,199.10 L185.29,198.60 L185.32,198.10 L185.35,197.60 L185.38,197.10 L185.41,196.60 L185.44,196.10 L185.46,195.60 L185.49,195.10 L185.51,194.60 L185.53,194.10 L185.54,193.60 L185.55,193.10 L185.55,192.60 L185.55,192.10 L185.54,191.60 L185.54,191.10 L185.53,190.60 L185.53,190.10 L185.52,189.60 L185.51,189.10 L185.50,188.60 L185.49,188.10 L185.48,187.60 L185.47,187.10 L185.46,186.60 L185.45,186.10 L185.43,185.60 L185.41,185.10 L185.39,184.60 L185.37,184.10 L185.34,183.60 L185.32,183.10 L185.29,182.60 L185.26,182.10 L185.24,181.60 L185.21,181.10 L185.19,180.60 L185.17,180.10 L185.15,179.60 L185.13,179.10 L185.11,178.60 L185.09,178.10 L185.07,177.60 L185.05,177.10 L185.03,176.60 L185.01,176.10 L184.99,175.60 L184.98,175.10 L184.97,174.60 L184.96,174.10 L184.95,173.60 L184.95,173.10 L184.95,172.60 L184.96,172.10 L184.98,171.60 L185.00,171.10 L185.02,170.60 L185.05,170.10 L185.08,169.60 L185.12,169.10 L185.16,168.60 L185.20,168.10 L185.25,167.60 L185.30,167.10 L185.35,166.60 L185.43,166.10 L185.55,165.60 L185.70,165.10 L185.88,164.60 L186.08,164.10 L186.30,163.60 L186.52,163.10 L186.73,162.60 L186.94,162.10 L187.12,161.60 L187.31,161.10 L187.49,160.60 L187.68,160.10 L187.87,159.60 L188.06,159.10 L188.25,158.60 L188.44,158.10 L188.64,157.60 L188.84,157.10 L189.05,156.60 L189.26,156.10 L189.47,155.60 L189.69,155.10 L189.91,154.60 L190.13,154.10 L190.36,153.60 L190.59,153.10 L190.82,152.60 L191.06,152.10 L191.30,151.60 L191.55,151.10 L191.81,150.60 L192.08,150.10 L192.35,149.60 L192.63,149.10 L192.92,148.60 L193.20,148.10 L193.48,147.60 L193.76,147.10 L194.04,146.60 L194.30,146.10 L194.55,145.60 L194.80,145.10 L195.05,144.60 L195.29,144.10 L195.54,143.60 L195.77,143.10 L196.01,142.60 L196.24,142.10 L196.48,141.60 L196.71,141.10 L196.94,140.60 L197.18,140.10 L197.42,139.60 L197.66,139.10 L197.91,138.60 L198.15,138.10 L198.38,137.60 L198.61,137.10 L198.83,136.60 L199.04,136.10 L199.23,135.60 L199.42,135.10 L199.58,134.60 L199.75,134.10 L199.91,133.60 L200.06,133.10 L200.20,132.60 L200.34,132.10 L200.46,131.60 L200.58,131.10 L200.69,130.60 L200.79,130.10 L200.87,129.60 L200.95,129.10 L201.03,128.60 L201.10,128.10 L201.16,127.60 L201.23,127.10 L201.30,126.60 L201.36,126.10 L201.44,125.60 L201.51,125.10 L201.59,124.60 L201.66,124.10 L201.74,123.60 L201.82,123.10 L201.90,122.60 L201.98,122.10 L202.06,121.60 L202.13,121.10 L202.21,120.60 L202.29,120.10 L202.37,119.60 L202.45,119.10 L202.53,118.60 L202.61,118.10 L202.69,117.60 L202.77,117.10 L202.85,116.60 L202.93,116.10 L203.02,115.60 L203.11,115.10 L203.20,114.60 L203.30,114.10 L203.39,113.60 L203.48,113.10 L203.58,112.60 L203.67,112.10 L203.75,111.60 L203.83,111.10 L203.91,110.60 L203.99,110.10 L204.06,109.60 L204.13,109.10 L204.20,108.60 L204.27,108.10 L204.34,107.60 L204.41,107.10 L204.47,106.60 L204.53,106.10 L204.59,105.60 L204.65,105.10 L204.70,104.60 L204.76,104.10 L204.81,103.60 L204.86,103.10 L204.91,102.60 L204.96,102.10 L205.01,101.60 L205.05,101.10 L205.10,100.60 L205.14,100.10 L205.18,99.60 L205.23,99.10 L205.27,98.60 L205.32,98.10 L205.36,97.60 L205.40,97.10 L205.44,96.60 L205.48,96.10 L205.52,95.60 L205.55,95.10 L205.59,94.60 L205.62,94.10 L205.64,93.60 L205.66,93.10 L205.68,92.60 L205.70,92.10 L205.72,91.60 L205.74,91.10 L205.76,90.60 L205.77,90.10 L205.79,89.60 L205.80,89.10 L205.81,88.60 L205.83,88.10 L205.84,87.60 L205.85,87.10 L205.87,86.60 L205.88,86.10 L205.89,85.60 L205.90,85.10 L205.91,84.60 L205.92,84.10 L205.94,83.60 L205.95,83.10 L205.96,82.60 L205.97,82.10 L205.97,81.60 L205.98,81.10 L205.99,80.60 L206.00,80.10Z" fill="#769a57" stroke="url(#g3)" stroke-width="0.85" stroke-linejoin="round"/>
<line x1="206.0" y1="129.3" x2="206.0" y2="243.7" stroke="#3a3a3a" stroke-width="0.75"/>
<rect x="204.35" y="165.4" width="3.3" height="51.00" fill="#fff" stroke="#3a3a3a" stroke-width="0.7"/>
<line x1="204.35" y1="195.2" x2="207.65" y2="195.2" stroke="#222" stroke-width="1.0"/>
<linearGradient id="g4" gradientUnits="userSpaceOnUse" x1="0" y1="31.4" x2="0" y2="324.5"><stop offset="0" stop-color="#909090"/><stop offset="0.0341" stop-color="#404040"/><stop offset="0.9727" stop-color="#404040"/><stop offset="1" stop-color="#8a8a8a"/></linearGradient>
<path d="M272.00,31.40 L272.01,31.90 L272.01,32.40 L272.02,32.90 L272.03,33.40 L272.03,33.90 L272.04,34.40 L272.05,34.90 L272.05,35.40 L272.06,35.90 L272.06,36.40 L272.07,36.90 L272.07,37.40 L272.08,37.90 L272.08,38.40 L272.09,38.90 L272.09,39.40 L272.10,39.90 L272.10,40.40 L272.10,40.90 L272.11,41.40 L272.11,41.90 L272.11,42.40 L272.12,42.90 L272.12,43.40 L272.12,43.90 L272.12,44.40 L272.13,44.90 L272.13,45.40 L272.13,45.90 L272.13,46.40 L272.13,46.90 L272.13,47.40 L272.13,47.90 L272.14,48.40 L272.14,48.90 L272.14,49.40 L272.14,49.90 L272.14,50.40 L272.14,50.90 L272.15,51.40 L272.15,51.90 L272.15,52.40 L272.16,52.90 L272.17,53.40 L272.19,53.90 L272.20,54.40 L272.22,54.90 L272.25,55.40 L272.27,55.90 L272.30,56.40 L272.33,56.90 L272.36,57.40 L272.39,57.90 L272.42,58.40 L272.45,58.90 L272.49,59.40 L272.52,59.90 L272.55,60.40 L272.59,60.90 L272.62,61.40 L272.66,61.90 L272.69,62.40 L272.73,62.90 L272.77,63.40 L272.81,63.90 L272.86,64.40 L272.90,64.90 L272.95,65.40 L273.00,65.90 L273.05,66.40 L273.10,66.90 L273.15,67.40 L273.21,67.90 L273.26,68.40 L273.32,68.90 L273.37,69.40 L273.43,69.90 L273.48,70.40 L273.54,70.90 L273.60,71.40 L273.65,71.90 L273.71,72.40 L273.77,72.90 L273.83,73.40 L273.89,73.90 L273.95,74.40 L274.02,74.90 L274.08,75.40 L274.15,75.90 L274.21,76.40 L274.28,76.90 L274.35,77.40 L274.42,77.90 L274.49,78.40 L274.56,78.90 L274.63,79.40 L274.71,79.90 L274.78,80.40 L274.85,80.90 L274.93,81.40 L275.01,81.90 L275.09,82.40 L275.17,82.90 L275.25,83.40 L275.33,83.90 L275.41,84.40 L275.50,84.90 L275.58,85.40 L275.67,85.90 L275.76,86.40 L275.85,86.90 L275.94,87.40 L276.04,87.90 L276.13,88.40 L276.23,88.90 L276.33,89.40 L276.43,89.90 L276.54,90.40 L276.65,90.90 L276.76,91.40 L276.88,91.90 L277.00,92.40 L277.12,92.90 L277.24,93.40 L277.37,93.90 L277.49,94.40 L277.62,94.90 L277.75,95.40 L277.88,95.90 L278.01,96.40 L278.15,96.90 L278.28,97.40 L278.41,97.90 L278.54,98.40 L278.67,98.90 L278.80,99.40 L278.93,99.90 L279.07,100.40 L279.20,100.90 L279.34,101.40 L279.47,101.90 L279.61,102.40 L279.75,102.90 L279.89,103.40 L280.03,103.90 L280.17,104.40 L280.30,104.90 L280.44,105.40 L280.58,105.90 L280.72,106.40 L280.85,106.90 L280.99,107.40 L281.12,107.90 L281.25,108.40 L281.38,108.90 L281.51,109.40 L281.64,109.90 L281.77,110.40 L281.90,110.90 L282.03,111.40 L282.16,111.90 L282.29,112.40 L282.42,112.90 L282.55,113.40 L282.67,113.90 L282.80,114.40 L282.92,114.90 L283.04,115.40 L283.16,115.90 L283.28,116.40 L283.39,116.90 L283.51,117.40 L283.62,117.90 L283.73,118.40 L283.84,118.90 L283.95,119.40 L284.06,119.90 L284.17,120.40 L284.28,120.90 L284.38,121.40 L284.49,121.90 L284.59,122.40 L284.69,122.90 L284.79,123.40 L284.89,123.90 L284.98,124.40 L285.06,124.90 L285.15,125.40 L285.22,125.90 L285.30,126.40 L285.36,126.90 L285.43,127.40 L285.49,127.90 L285.55,128.40 L285.61,128.90 L285.67,129.40 L285.72,129.90 L285.78,130.40 L285.83,130.90 L285.88,131.40 L285.93,131.90 L285.98,132.40 L286.02,132.90 L286.06,133.40 L286.10,133.90 L286.14,134.40 L286.18,134.90 L286.21,135.40 L286.24,135.90 L286.27,136.40 L286.30,136.90 L286.34,137.40 L286.37,137.90 L286.40,138.40 L286.43,138.90 L286.45,139.40 L286.48,139.90 L286.51,140.40 L286.53,140.90 L286.56,141.40 L286.58,141.90 L286.60,142.40 L286.61,142.90 L286.63,143.40 L286.64,143.90 L286.65,144.40 L286.65,144.90 L286.65,145.40 L286.65,145.90 L286.64,146.40 L286.63,146.90 L286.62,147.40 L286.61,147.90 L286.59,148.40 L286.57,148.90 L286.55,149.40 L286.52,149.90 L286.50,150.40 L286.47,150.90 L286.44,151.40 L286.42,151.90 L286.39,152.40 L286.35,152.90 L286.32,153.40 L286.29,153.90 L286.26,154.40 L286.22,154.90 L286.18,155.40 L286.13,155.90 L286.07,156.40 L286.01,156.90 L285.94,157.40 L285.87,157.90 L285.79,158.40 L285.72,158.90 L285.63,159.40 L285.55,159.90 L285.47,160.40 L285.38,160.90 L285.30,161.40 L285.21,161.90 L285.13,162.40 L285.05,162.90 L284.97,163.40 L284.89,163.90 L284.82,164.40 L284.75,164.90 L284.68,165.40 L284.61,165.90 L284.54,166.40 L284.47,166.90 L284.40,167.40 L284.33,167.90 L284.25,168.40 L284.18,168.90 L284.11,169.40 L284.04,169.90 L283.97,170.40 L283.90,170.90 L283.83,171.40 L283.76,171.90 L283.69,172.40 L283.62,172.90 L283.55,173.40 L283.48,173.90 L283.41,174.40 L283.33,174.90 L283.26,175.40 L283.18,175.90 L283.10,176.40 L283.03,176.90 L282.95,177.40 L282.88,177.90 L282.80,178.40 L282.73,178.90 L282.66,179.40 L282.59,179.90 L282.52,180.40 L282.45,180.90 L282.39,181.40 L282.33,181.90 L282.27,182.40 L282.22,182.90 L282.16,183.40 L282.11,183.90 L282.06,184.40 L282.01,184.90 L281.96,185.40 L281.91,185.90 L281.86,186.40 L281.82,186.90 L281.77,187.40 L281.73,187.90 L281.69,188.40 L281.65,188.90 L281.61,189.40 L281.57,189.90 L281.54,190.40 L281.50,190.90 L281.47,191.40 L281.44,191.90 L281.42,192.40 L281.39,192.90 L281.36,193.40 L281.33,193.90 L281.30,194.40 L281.28,194.90 L281.26,195.40 L281.25,195.90 L281.25,196.40 L281.25,196.90 L281.26,197.40 L281.28,197.90 L281.30,198.40 L281.33,198.90 L281.36,199.40 L281.39,199.90 L281.42,200.40 L281.44,200.90 L281.47,201.40 L281.51,201.90 L281.54,202.40 L281.58,202.90 L281.62,203.40 L281.66,203.90 L281.71,204.40 L281.75,204.90 L281.80,205.40 L281.85,205.90 L281.90,206.40 L281.95,206.90 L282.00,207.40 L282.04,207.90 L282.09,208.40 L282.14,208.90 L282.18,209.40 L282.23,209.90 L282.27,210.40 L282.31,210.90 L282.35,211.40 L282.39,211.90 L282.43,212.40 L282.46,212.90 L282.50,213.40 L282.54,213.90 L282.58,214.40 L282.62,214.90 L282.66,215.40 L282.69,215.90 L282.73,216.40 L282.77,216.90 L282.80,217.40 L282.84,217.90 L282.87,218.40 L282.91,218.90 L282.94,219.40 L282.98,219.90 L283.01,220.40 L283.05,220.90 L283.08,221.40 L283.12,221.90 L283.16,222.40 L283.19,222.90 L283.23,223.40 L283.27,223.90 L283.30,224.40 L283.33,224.90 L283.37,225.40 L283.40,225.90 L283.43,226.40 L283.45,226.90 L283.48,227.40 L283.50,227.90 L283.52,228.40 L283.54,228.90 L283.56,229.40 L283.57,229.90 L283.59,230.40 L283.60,230.90 L283.61,231.40 L283.62,231.90 L283.63,232.40 L283.64,232.90 L283.65,233.40 L283.65,233.90 L283.65,234.40 L283.64,234.90 L283.62,235.40 L283.60,235.90 L283.57,236.40 L283.55,236.90 L283.52,237.40 L283.48,237.90 L283.45,238.40 L283.41,238.90 L283.37,239.40 L283.32,239.90 L283.27,240.40 L283.21,240.90 L283.15,241.40 L283.08,241.90 L283.01,242.40 L282.94,242.90 L282.86,243.40 L282.78,243.90 L282.70,244.40 L282.61,244.90 L282.53,245.40 L282.44,245.90 L282.36,246.40 L282.27,246.90 L282.18,247.40 L282.10,247.90 L282.01,248.40 L281.91,248.90 L281.82,249.40 L281.71,249.90 L281.61,250.40 L281.50,250.90 L281.39,251.40 L281.28,251.90 L281.17,252.40 L281.06,252.90 L280.94,253.40 L280.82,253.90 L280.71,254.40 L280.59,254.90 L280.47,255.40 L280.36,255.90 L280.24,256.40 L280.13,256.90 L280.01,257.40 L279.89,257.90 L279.77,258.40 L279.65,258.90 L279.53,259.40 L279.41,259.90 L279.28,260.40 L279.16,260.90 L279.04,261.40 L278.91,261.90 L278.79,262.40 L278.67,262.90 L278.55,263.40 L278.43,263.90 L278.31,264.40 L278.19,264.90 L278.08,265.40 L277.97,265.90 L277.86,266.40 L277.76,266.90 L277.65,267.40 L277.55,267.90 L277.45,268.40 L277.35,268.90 L277.25,269.40 L277.15,269.90 L277.05,270.40 L276.96,270.90 L276.86,271.40 L276.76,271.90 L276.67,272.40 L276.58,272.90 L276.48,273.40 L276.39,273.90 L276.30,274.40 L276.20,274.90 L276.11,275.40 L276.02,275.90 L275.93,276.40 L275.84,276.90 L275.75,277.40 L275.66,277.90 L275.56,278.40 L275.47,278.90 L275.39,279.40 L275.30,279.90 L275.21,280.40 L275.12,280.90 L275.04,281.40 L274.96,281.90 L274.87,282.40 L274.79,282.90 L274.71,283.40 L274.64,283.90 L274.56,284.40 L274.49,284.90 L274.42,285.40 L274.36,285.90 L274.29,286.40 L274.23,286.90 L274.16,287.40 L274.10,287.90 L274.04,288.40 L273.98,288.90 L273.92,289.40 L273.86,289.90 L273.80,290.40 L273.74,290.90 L273.67,291.40 L273.61,291.90 L273.55,292.40 L273.48,292.90 L273.42,293.40 L273.35,293.90 L273.29,294.40 L273.23,294.90 L273.16,295.40 L273.10,295.90 L273.04,296.40 L272.98,296.90 L272.93,297.40 L272.88,297.90 L272.83,298.40 L272.78,298.90 L272.74,299.40 L272.69,299.90 L272.65,300.40 L272.61,300.90 L272.56,301.40 L272.52,301.90 L272.49,302.40 L272.45,302.90 L272.42,303.40 L272.39,303.90 L272.36,304.40 L272.34,304.90 L272.32,305.40 L272.30,305.90 L272.28,306.40 L272.26,306.90 L272.24,307.40 L272.22,307.90 L272.21,308.40 L272.19,308.90 L272.18,309.40 L272.16,309.90 L272.15,310.40 L272.14,310.90 L272.13,311.40 L272.12,311.90 L272.11,312.40 L272.11,312.90 L272.10,313.40 L272.09,313.90 L272.08,314.40 L272.08,314.90 L272.07,315.40 L272.06,315.90 L272.06,316.40 L272.05,316.90 L272.05,317.40 L272.04,317.90 L272.03,318.40 L272.03,318.90 L272.02,319.40 L272.02,319.90 L272.02,320.40 L272.01,320.90 L272.01,321.40 L272.01,321.90 L272.00,322.40 L272.00,322.90 L272.00,323.40 L272.00,323.90 L272.00,324.40 L272.00,324.50 L272.00,324.50 L272.00,324.40 L272.00,323.90 L272.00,323.40 L272.00,322.90 L272.00,322.40 L271.99,321.90 L271.99,321.40 L271.99,320.90 L271.98,320.40 L271.98,319.90 L271.98,319.40 L271.97,318.90 L271.97,318.40 L271.96,317.90 L271.95,317.40 L271.95,316.90 L271.94,316.40 L271.94,315.90 L271.93,315.40 L271.92,314.90 L271.92,314.40 L271.91,313.90 L271.90,313.40 L271.89,312.90 L271.89,312.40 L271.88,311.90 L271.87,311.40 L271.86,310.90 L271.85,310.40 L271.84,309.90 L271.82,309.40 L271.81,308.90 L271.79,308.40 L271.78,307.90 L271.76,307.40 L271.74,306.90 L271.72,306.40 L271.70,305.90 L271.68,305.40 L271.66,304.90 L271.64,304.40 L271.61,303.90 L271.58,303.40 L271.55,302.90 L271.51,302.40 L271.48,301.90 L271.44,301.40 L271.39,300.90 L271.35,300.40 L271.31,299.90 L271.26,299.40 L271.22,298.90 L271.17,298.40 L271.12,297.90 L271.07,297.40 L271.02,296.90 L270.96,296.40 L270.90,295.90 L270.84,295.40 L270.77,294.90 L270.71,294.40 L270.65,293.90 L270.58,293.40 L270.52,292.90 L270.45,292.40 L270.39,291.90 L270.33,291.40 L270.26,290.90 L270.20,290.40 L270.14,289.90 L270.08,289.40 L270.02,288.90 L269.96,288.40 L269.90,287.90 L269.84,287.40 L269.77,286.90 L269.71,286.40 L269.64,285.90 L269.58,285.40 L269.51,284.90 L269.44,284.40 L269.36,283.90 L269.29,283.40 L269.21,282.90 L269.13,282.40 L269.04,281.90 L268.96,281.40 L268.88,280.90 L268.79,280.40 L268.70,279.90 L268.61,279.40 L268.53,278.90 L268.44,278.40 L268.34,277.90 L268.25,277.40 L268.16,276.90 L268.07,276.40 L267.98,275.90 L267.89,275.40 L267.80,274.90 L267.70,274.40 L267.61,273.90 L267.52,273.40 L267.42,272.90 L267.33,272.40 L267.24,271.90 L267.14,271.40 L267.04,270.90 L266.95,270.40 L266.85,269.90 L266.75,269.40 L266.65,268.90 L266.55,268.40 L266.45,267.90 L266.35,267.40 L266.24,266.90 L266.14,266.40 L266.03,265.90 L265.92,265.40 L265.81,264.90 L265.69,264.40 L265.57,263.90 L265.45,263.40 L265.33,262.90 L265.21,262.40 L265.09,261.90 L264.96,261.40 L264.84,260.90 L264.72,260.40 L264.59,259.90 L264.47,259.40 L264.35,258.90 L264.23,258.40 L264.11,257.90 L263.99,257.40 L263.87,256.90 L263.76,256.40 L263.64,255.90 L263.53,255.40 L263.41,254.90 L263.29,254.40 L263.18,253.90 L263.06,253.40 L262.94,252.90 L262.83,252.40 L262.72,251.90 L262.61,251.40 L262.50,250.90 L262.39,250.40 L262.29,249.90 L262.18,249.40 L262.09,248.90 L261.99,248.40 L261.90,247.90 L261.82,247.40 L261.73,246.90 L261.64,246.40 L261.56,245.90 L261.47,245.40 L261.39,244.90 L261.30,244.40 L261.22,243.90 L261.14,243.40 L261.06,242.90 L260.99,242.40 L260.92,241.90 L260.85,241.40 L260.79,240.90 L260.73,240.40 L260.68,239.90 L260.63,239.40 L260.59,238.90 L260.55,238.40 L260.52,237.90 L260.48,237.40 L260.45,236.90 L260.43,236.40 L260.40,235.90 L260.38,235.40 L260.36,234.90 L260.35,234.40 L260.35,233.90 L260.35,233.40 L260.36,232.90 L260.37,232.40 L260.38,231.90 L260.39,231.40 L260.40,230.90 L260.41,230.40 L260.43,229.90 L260.44,229.40 L260.46,228.90 L260.48,228.40 L260.50,227.90 L260.52,227.40 L260.55,226.90 L260.57,226.40 L260.60,225.90 L260.63,225.40 L260.67,224.90 L260.70,224.40 L260.73,223.90 L260.77,223.40 L260.81,222.90 L260.84,222.40 L260.88,221.90 L260.92,221.40 L260.95,220.90 L260.99,220.40 L261.02,219.90 L261.06,219.40 L261.09,218.90 L261.13,218.40 L261.16,217.90 L261.20,217.40 L261.23,216.90 L261.27,216.40 L261.31,215.90 L261.34,215.40 L261.38,214.90 L261.42,214.40 L261.46,213.90 L261.50,213.40 L261.54,212.90 L261.57,212.40 L261.61,211.90 L261.65,211.40 L261.69,210.90 L261.73,210.40 L261.77,209.90 L261.82,209.40 L261.86,208.90 L261.91,208.40 L261.96,207.90 L262.00,207.40 L262.05,206.90 L262.10,206.40 L262.15,205.90 L262.20,205.40 L262.25,204.90 L262.29,204.40 L262.34,203.90 L262.38,203.40 L262.42,202.90 L262.46,202.40 L262.49,201.90 L262.53,201.40 L262.56,200.90 L262.58,200.40 L262.61,199.90 L262.64,199.40 L262.67,198.90 L262.70,198.40 L262.72,197.90 L262.74,197.40 L262.75,196.90 L262.75,196.40 L262.75,195.90 L262.74,195.40 L262.72,194.90 L262.70,194.40 L262.67,193.90 L262.64,193.40 L262.61,192.90 L262.58,192.40 L262.56,191.90 L262.53,191.40 L262.50,190.90 L262.46,190.40 L262.43,189.90 L262.39,189.40 L262.35,188.90 L262.31,188.40 L262.27,187.90 L262.23,187.40 L262.18,186.90 L262.14,186.40 L262.09,185.90 L262.04,185.40 L261.99,184.90 L261.94,184.40 L261.89,183.90 L261.84,183.40 L261.78,182.90 L261.73,182.40 L261.67,181.90 L261.61,181.40 L261.55,180.90 L261.48,180.40 L261.41,179.90 L261.34,179.40 L261.27,178.90 L261.20,178.40 L261.12,177.90 L261.05,177.40 L260.97,176.90 L260.90,176.40 L260.82,175.90 L260.74,175.40 L260.67,174.90 L260.59,174.40 L260.52,173.90 L260.45,173.40 L260.38,172.90 L260.31,172.40 L260.24,171.90 L260.17,171.40 L260.10,170.90 L260.03,170.40 L259.96,169.90 L259.89,169.40 L259.82,168.90 L259.75,168.40 L259.67,167.90 L259.60,167.40 L259.53,166.90 L259.46,166.40 L259.39,165.90 L259.32,165.40 L259.25,164.90 L259.18,164.40 L259.11,163.90 L259.03,163.40 L258.95,162.90 L258.87,162.40 L258.79,161.90 L258.70,161.40 L258.62,160.90 L258.53,160.40 L258.45,159.90 L258.37,159.40 L258.28,158.90 L258.21,158.40 L258.13,157.90 L258.06,157.40 L257.99,156.90 L257.93,156.40 L257.87,155.90 L257.82,155.40 L257.78,154.90 L257.74,154.40 L257.71,153.90 L257.68,153.40 L257.65,152.90 L257.61,152.40 L257.58,151.90 L257.56,151.40 L257.53,150.90 L257.50,150.40 L257.48,149.90 L257.45,149.40 L257.43,148.90 L257.41,148.40 L257.39,147.90 L257.38,147.40 L257.37,146.90 L257.36,146.40 L257.35,145.90 L257.35,145.40 L257.35,144.90 L257.35,144.40 L257.36,143.90 L257.37,143.40 L257.39,142.90 L257.40,142.40 L257.42,141.90 L257.44,141.40 L257.47,140.90 L257.49,140.40 L257.52,139.90 L257.55,139.40 L257.57,138.90 L257.60,138.40 L257.63,137.90 L257.66,137.40 L257.70,136.90 L257.73,136.40 L257.76,135.90 L257.79,135.40 L257.82,134.90 L257.86,134.40 L257.90,133.90 L257.94,133.40 L257.98,132.90 L258.02,132.40 L258.07,131.90 L258.12,131.40 L258.17,130.90 L258.22,130.40 L258.28,129.90 L258.33,129.40 L258.39,128.90 L258.45,128.40 L258.51,127.90 L258.57,127.40 L258.64,126.90 L258.70,126.40 L258.78,125.90 L258.85,125.40 L258.94,124.90 L259.02,124.40 L259.11,123.90 L259.21,123.40 L259.31,122.90 L259.41,122.40 L259.51,121.90 L259.62,121.40 L259.72,120.90 L259.83,120.40 L259.94,119.90 L260.05,119.40 L260.16,118.90 L260.27,118.40 L260.38,117.90 L260.49,117.40 L260.61,116.90 L260.72,116.40 L260.84,115.90 L260.96,115.40 L261.08,114.90 L261.20,114.40 L261.33,113.90 L261.45,113.40 L261.58,112.90 L261.71,112.40 L261.84,111.90 L261.97,111.40 L262.10,110.90 L262.23,110.40 L262.36,109.90 L262.49,109.40 L262.62,108.90 L262.75,108.40 L262.88,107.90 L263.01,107.40 L263.15,106.90 L263.28,106.40 L263.42,105.90 L263.56,105.40 L263.70,104.90 L263.83,104.40 L263.97,103.90 L264.11,103.40 L264.25,102.90 L264.39,102.40 L264.53,101.90 L264.66,101.40 L264.80,100.90 L264.93,100.40 L265.07,99.90 L265.20,99.40 L265.33,98.90 L265.46,98.40 L265.59,97.90 L265.72,97.40 L265.85,96.90 L265.99,96.40 L266.12,95.90 L266.25,95.40 L266.38,94.90 L266.51,94.40 L266.63,93.90 L266.76,93.40 L266.88,92.90 L267.00,92.40 L267.12,91.90 L267.24,91.40 L267.35,90.90 L267.46,90.40 L267.57,89.90 L267.67,89.40 L267.77,88.90 L267.87,88.40 L267.96,87.90 L268.06,87.40 L268.15,86.90 L268.24,86.40 L268.33,85.90 L268.42,85.40 L268.50,84.90 L268.59,84.40 L268.67,83.90 L268.75,83.40 L268.83,82.90 L268.91,82.40 L268.99,81.90 L269.07,81.40 L269.15,80.90 L269.22,80.40 L269.29,79.90 L269.37,79.40 L269.44,78.90 L269.51,78.40 L269.58,77.90 L269.65,77.40 L269.72,76.90 L269.79,76.40 L269.85,75.90 L269.92,75.40 L269.98,74.90 L270.05,74.40 L270.11,73.90 L270.17,73.40 L270.23,72.90 L270.29,72.40 L270.35,71.90 L270.40,71.40 L270.46,70.90 L270.52,70.40 L270.57,69.90 L270.63,69.40 L270.68,68.90 L270.74,68.40 L270.79,67.90 L270.85,67.40 L270.90,66.90 L270.95,66.40 L271.00,65.90 L271.05,65.40 L271.10,64.90 L271.14,64.40 L271.19,63.90 L271.23,63.40 L271.27,62.90 L271.31,62.40 L271.34,61.90 L271.38,61.40 L271.41,60.90 L271.45,60.40 L271.48,59.90 L271.51,59.40 L271.55,58.90 L271.58,58.40 L271.61,57.90 L271.64,57.40 L271.67,56.90 L271.70,56.40 L271.73,55.90 L271.75,55.40 L271.78,54.90 L271.80,54.40 L271.81,53.90 L271.83,53.40 L271.84,52.90 L271.85,52.40 L271.85,51.90 L271.85,51.40 L271.86,50.90 L271.86,50.40 L271.86,49.90 L271.86,49.40 L271.86,48.90 L271.86,48.40 L271.87,47.90 L271.87,47.40 L271.87,46.90 L271.87,46.40 L271.87,45.90 L271.87,45.40 L271.87,44.90 L271.88,44.40 L271.88,43.90 L271.88,43.40 L271.88,42.90 L271.89,42.40 L271.89,41.90 L271.89,41.40 L271.90,40.90 L271.90,40.40 L271.90,39.90 L271.91,39.40 L271.91,38.90 L271.92,38.40 L271.92,37.90 L271.93,37.40 L271.93,36.90 L271.94,36.40 L271.94,35.90 L271.95,35.40 L271.95,34.90 L271.96,34.40 L271.97,33.90 L271.97,33.40 L271.98,32.90 L271.99,32.40 L271.99,31.90 L272.00,31.40Z" fill="#cd3e31" stroke="url(#g4)" stroke-width="0.85" stroke-linejoin="round"/>
<line x1="272.0" y1="106.6" x2="272.0" y2="249.5" stroke="#3a3a3a" stroke-width="0.75"/>
<rect x="270.35" y="138.8" width="3.3" height="97.40" fill="#fff" stroke="#3a3a3a" stroke-width="0.7"/>
<line x1="270.35" y1="167.0" x2="273.65" y2="167.0" stroke="#222" stroke-width="1.0"/>
<rect x="83" y="19" width="49" height="70" fill="#fff"/>
<text transform="translate(86.00,32.00) scale(1.0,1.0)" font-family="Liberation Sans, sans-serif" font-size="12.8" font-weight="bold" fill="#000" stroke="#000" stroke-width="0.15">Group</text>
<rect x="88.7" y="38.40" width="10.6" height="10.3" fill="#5251fe" stroke="#3c3c3c" stroke-width="0.8"/>
<text transform="translate(107.30,46.90) scale(1.0,1.08)" font-family="Liberation Sans, sans-serif" font-size="9.3" fill="#111" stroke="#111" stroke-width="0.25">ASD</text>
<rect x="88.7" y="50.00" width="10.6" height="10.3" fill="#cd3e31" stroke="#3c3c3c" stroke-width="0.8"/>
<text transform="translate(106.50,58.50) scale(1.0,1.08)" font-family="Liberation Sans, sans-serif" font-size="9.3" fill="#111" stroke="#111" stroke-width="0.25">HC-m</text>
<rect x="88.7" y="61.40" width="10.6" height="10.3" fill="#769a57" stroke="#3c3c3c" stroke-width="0.8"/>
<text transform="translate(107.30,69.90) scale(1.0,1.08)" font-family="Liberation Sans, sans-serif" font-size="9.3" fill="#111" stroke="#111" stroke-width="0.25">HC-f</text>
<rect x="88.7" y="73.80" width="10.6" height="10.3" fill="#f1e483" stroke="#3c3c3c" stroke-width="0.8"/>
<text transform="translate(107.70,82.30) scale(1.0,1.08)" font-family="Liberation Sans, sans-serif" font-size="9.3" fill="#111" stroke="#111" stroke-width="0.25">HC-c</text>
<line x1="34.5" y1="17.4" x2="34.5" y2="339.3" stroke="#c4c4c4" stroke-width="1.2"/>
<line x1="34.5" y1="339.3" x2="311.6" y2="339.3" stroke="#707070" stroke-width="1"/>
<line x1="311.8" y1="17.4" x2="311.8" y2="339.3" stroke="#858585" stroke-width="1.4"/>
<line x1="34.5" y1="17.4" x2="311.6" y2="17.4" stroke="#444" stroke-width="1.1"/>
<line x1="32.0" y1="77.8" x2="34.5" y2="77.8" stroke="#555" stroke-width="0.8"/>
<text transform="translate(28.60,82.80) scale(1.0,1.08)" font-family="Liberation Sans, sans-serif" font-size="13.0" text-anchor="end" fill="#111" stroke="#111" stroke-width="0.25">4</text>
<line x1="32.0" y1="178.3" x2="34.5" y2="178.3" stroke="#555" stroke-width="0.8"/>
<text transform="translate(28.60,183.30) scale(1.0,1.08)" font-family="Liberation Sans, sans-serif" font-size="13.0" text-anchor="end" fill="#111" stroke="#111" stroke-width="0.25">3</text>
<line x1="32.0" y1="278.5" x2="34.5" y2="278.5" stroke="#555" stroke-width="0.8"/>
<text transform="translate(28.60,283.50) scale(1.0,1.08)" font-family="Liberation Sans, sans-serif" font-size="13.0" text-anchor="end" fill="#111" stroke="#111" stroke-width="0.25">2</text>
<line x1="73.7" y1="339.3" x2="73.7" y2="341.3" stroke="#555" stroke-width="0.8"/>
<text transform="translate(74.20,357.30) scale(1.0,1.03)" font-family="Liberation Sans, sans-serif" font-size="13.0" text-anchor="middle" fill="#111" stroke="#111" stroke-width="0.25">ASD</text>
<line x1="139.9" y1="339.3" x2="139.9" y2="341.3" stroke="#555" stroke-width="0.8"/>
<text transform="translate(139.90,357.30) scale(1.0,1.03)" font-family="Liberation Sans, sans-serif" font-size="13.0" text-anchor="middle" fill="#111" stroke="#111" stroke-width="0.25">HC-c</text>
<line x1="206.0" y1="339.3" x2="206.0" y2="341.3" stroke="#555" stroke-width="0.8"/>
<text transform="translate(204.20,357.30) scale(1.0,1.03)" font-family="Liberation Sans, sans-serif" font-size="13.0" text-anchor="middle" fill="#111" stroke="#111" stroke-width="0.25">HC-f</text>
<line x1="272.1" y1="339.3" x2="272.1" y2="341.3" stroke="#555" stroke-width="0.8"/>
<text transform="translate(272.10,357.30) scale(1.0,1.03)" font-family="Liberation Sans, sans-serif" font-size="13.0" text-anchor="middle" fill="#111" stroke="#111" stroke-width="0.25">HC-m</text>
<text transform="translate(166.10,374.70) scale(1.0,1.0)" font-family="Liberation Sans, sans-serif" font-size="12.8" font-weight="bold" text-anchor="middle" fill="#000" stroke="#000" stroke-width="0.15">Group</text>
<text transform="translate(10.4,177.7) rotate(-90) scale(1.0,1.0)" font-family="Liberation Sans, sans-serif" font-size="12.8" font-weight="bold" text-anchor="middle" fill="#000">Shannon</text>
<text transform="translate(34.00,13.10) scale(0.99,0.94)" font-family="Liberation Sans, sans-serif" font-size="17" fill="#000" stroke="#000" stroke-width="0.1">A</text>
<line x1="402.5" y1="15.899999999999999" x2="674.6" y2="15.899999999999999" stroke="#f3f3f3" stroke-width="1.5"/>
<line x1="402.5" y1="76.1" x2="674.6" y2="76.1" stroke="#f3f3f3" stroke-width="1.5"/>
<line x1="402.5" y1="136.3" x2="674.6" y2="136.3" stroke="#f3f3f3" stroke-width="1.5"/>
<line x1="402.5" y1="196.5" x2="674.6" y2="196.5" stroke="#f3f3f3" stroke-width="1.5"/>
<line x1="402.5" y1="256.70000000000005" x2="674.6" y2="256.70000000000005" stroke="#f3f3f3" stroke-width="1.5"/>
<line x1="402.5" y1="316.90000000000003" x2="674.6" y2="316.90000000000003" stroke="#f3f3f3" stroke-width="1.5"/>
<line x1="402.5" y1="46.0" x2="674.6" y2="46.0" stroke="#f2f2f2" stroke-width="1.7"/>
<line x1="402.5" y1="106.2" x2="674.6" y2="106.2" stroke="#f2f2f2" stroke-width="1.7"/>
<line x1="402.5" y1="166.3" x2="674.6" y2="166.3" stroke="#f2f2f2" stroke-width="1.7"/>
<line x1="402.5" y1="226.5" x2="674.6" y2="226.5" stroke="#f2f2f2" stroke-width="1.7"/>
<line x1="402.5" y1="286.6" x2="674.6" y2="286.6" stroke="#f2f2f2" stroke-width="1.7"/>
<line x1="441.3" y1="15.5" x2="441.3" y2="337.4" stroke="#f2f2f2" stroke-width="1.7"/>
<line x1="506.0" y1="15.5" x2="506.0" y2="337.4" stroke="#f2f2f2" stroke-width="1.7"/>
<line x1="570.8" y1="15.5" x2="570.8" y2="337.4" stroke="#f2f2f2" stroke-width="1.7"/>
<line x1="635.6" y1="15.5" x2="635.6" y2="337.4" stroke="#f2f2f2" stroke-width="1.7"/>
<linearGradient id="g5" gradientUnits="userSpaceOnUse" x1="0" y1="30.2" x2="0" y2="269.4"><stop offset="0" stop-color="#404040"/><stop offset="0.0042" stop-color="#404040"/><stop offset="0.9958" stop-color="#404040"/><stop offset="1" stop-color="#404040"/></linearGradient>
<path d="M441.10,30.20 L441.10,30.70 L441.10,31.20 L441.10,31.70 L441.11,32.20 L441.11,32.70 L441.12,33.20 L441.13,33.70 L441.13,34.20 L441.14,34.70 L441.15,35.20 L441.16,35.70 L441.17,36.20 L441.18,36.70 L441.19,37.20 L441.20,37.70 L441.21,38.20 L441.22,38.70 L441.23,39.20 L441.24,39.70 L441.25,40.20 L441.27,40.70 L441.28,41.20 L441.30,41.70 L441.32,42.20 L441.34,42.70 L441.36,43.20 L441.39,43.70 L441.41,44.20 L441.44,44.70 L441.46,45.20 L441.49,45.70 L441.51,46.20 L441.54,46.70 L441.56,47.20 L441.59,47.70 L441.61,48.20 L441.64,48.70 L441.67,49.20 L441.70,49.70 L441.73,50.20 L441.76,50.70 L441.78,51.20 L441.81,51.70 L441.83,52.20 L441.85,52.70 L441.87,53.20 L441.89,53.70 L441.91,54.20 L441.93,54.70 L441.94,55.20 L441.96,55.70 L441.98,56.20 L441.99,56.70 L442.00,57.20 L442.02,57.70 L442.03,58.20 L442.05,58.70 L442.06,59.20 L442.08,59.70 L442.09,60.20 L442.11,60.70 L442.13,61.20 L442.15,61.70 L442.16,62.20 L442.18,62.70 L442.20,63.20 L442.22,63.70 L442.24,64.20 L442.26,64.70 L442.28,65.20 L442.30,65.70 L442.32,66.20 L442.35,66.70 L442.37,67.20 L442.39,67.70 L442.41,68.20 L442.44,68.70 L442.46,69.20 L442.48,69.70 L442.51,70.20 L442.53,70.70 L442.56,71.20 L442.59,71.70 L442.61,72.20 L442.64,72.70 L442.67,73.20 L442.70,73.70 L442.73,74.20 L442.76,74.70 L442.79,75.20 L442.82,75.70 L442.86,76.20 L442.89,76.70 L442.92,77.20 L442.96,77.70 L443.00,78.20 L443.03,78.70 L443.07,79.20 L443.11,79.70 L443.15,80.20 L443.19,80.70 L443.23,81.20 L443.28,81.70 L443.32,82.20 L443.37,82.70 L443.42,83.20 L443.47,83.70 L443.52,84.20 L443.57,84.70 L443.62,85.20 L443.68,85.70 L443.73,86.20 L443.79,86.70 L443.85,87.20 L443.91,87.70 L443.98,88.20 L444.04,88.70 L444.11,89.20 L444.18,89.70 L444.25,90.20 L444.32,90.70 L444.39,91.20 L444.47,91.70 L444.55,92.20 L444.64,92.70 L444.74,93.20 L444.84,93.70 L444.95,94.20 L445.07,94.70 L445.21,95.20 L445.38,95.70 L445.59,96.20 L445.82,96.70 L446.07,97.20 L446.33,97.70 L446.59,98.20 L446.83,98.70 L447.05,99.20 L447.26,99.70 L447.46,100.20 L447.66,100.70 L447.86,101.20 L448.06,101.70 L448.26,102.20 L448.45,102.70 L448.65,103.20 L448.83,103.70 L449.02,104.20 L449.20,104.70 L449.38,105.20 L449.56,105.70 L449.74,106.20 L449.90,106.70 L450.07,107.20 L450.23,107.70 L450.39,108.20 L450.54,108.70 L450.69,109.20 L450.84,109.70 L450.99,110.20 L451.14,110.70 L451.29,111.20 L451.43,111.70 L451.57,112.20 L451.71,112.70 L451.84,113.20 L451.98,113.70 L452.10,114.20 L452.23,114.70 L452.35,115.20 L452.46,115.70 L452.57,116.20 L452.68,116.70 L452.77,117.20 L452.87,117.70 L452.96,118.20 L453.05,118.70 L453.13,119.20 L453.22,119.70 L453.30,120.20 L453.38,120.70 L453.46,121.20 L453.54,121.70 L453.61,122.20 L453.68,122.70 L453.75,123.20 L453.81,123.70 L453.87,124.20 L453.93,124.70 L453.99,125.20 L454.04,125.70 L454.09,126.20 L454.14,126.70 L454.19,127.20 L454.23,127.70 L454.28,128.20 L454.32,128.70 L454.37,129.20 L454.41,129.70 L454.46,130.20 L454.50,130.70 L454.54,131.20 L454.57,131.70 L454.61,132.20 L454.64,132.70 L454.67,133.20 L454.69,133.70 L454.72,134.20 L454.73,134.70 L454.74,135.20 L454.75,135.70 L454.75,136.20 L454.75,136.70 L454.75,137.20 L454.75,137.70 L454.75,138.20 L454.75,138.70 L454.75,139.20 L454.75,139.70 L454.75,140.20 L454.75,140.70 L454.75,141.20 L454.75,141.70 L454.75,142.20 L454.75,142.70 L454.75,143.20 L454.75,143.70 L454.75,144.20 L454.75,144.70 L454.75,145.20 L454.75,145.70 L454.75,146.20 L454.74,146.70 L454.74,147.20 L454.73,147.70 L454.72,148.20 L454.72,148.70 L454.71,149.20 L454.70,149.70 L454.68,150.20 L454.67,150.70 L454.66,151.20 L454.64,151.70 L454.63,152.20 L454.61,152.70 L454.60,153.20 L454.58,153.70 L454.56,154.20 L454.54,154.70 L454.52,155.20 L454.49,155.70 L454.45,156.20 L454.41,156.70 L454.36,157.20 L454.31,157.70 L454.25,158.20 L454.19,158.70 L454.13,159.20 L454.06,159.70 L453.99,160.20 L453.91,160.70 L453.84,161.20 L453.76,161.70 L453.68,162.20 L453.60,162.70 L453.52,163.20 L453.43,163.70 L453.35,164.20 L453.26,164.70 L453.17,165.20 L453.06,165.70 L452.95,166.20 L452.84,166.70 L452.72,167.20 L452.59,167.70 L452.46,168.20 L452.33,168.70 L452.19,169.20 L452.06,169.70 L451.92,170.20 L451.78,170.70 L451.64,171.20 L451.50,171.70 L451.37,172.20 L451.23,172.70 L451.10,173.20 L450.97,173.70 L450.84,174.20 L450.72,174.70 L450.59,175.20 L450.45,175.70 L450.32,176.20 L450.19,176.70 L450.06,177.20 L449.93,177.70 L449.80,178.20 L449.67,178.70 L449.53,179.20 L449.40,179.70 L449.27,180.20 L449.14,180.70 L449.01,181.20 L448.88,181.70 L448.75,182.20 L448.62,182.70 L448.50,183.20 L448.37,183.70 L448.24,184.20 L448.12,184.70 L447.99,185.20 L447.86,185.70 L447.74,186.20 L447.61,186.70 L447.49,187.20 L447.36,187.70 L447.24,188.20 L447.11,188.70 L446.99,189.20 L446.87,189.70 L446.74,190.20 L446.62,190.70 L446.50,191.20 L446.37,191.70 L446.25,192.20 L446.12,192.70 L445.99,193.20 L445.86,193.70 L445.72,194.20 L445.59,194.70 L445.45,195.20 L445.32,195.70 L445.18,196.20 L445.05,196.70 L444.92,197.20 L444.80,197.70 L444.68,198.20 L444.57,198.70 L444.46,199.20 L444.36,199.70 L444.27,200.20 L444.19,200.70 L444.12,201.20 L444.05,201.70 L443.99,202.20 L443.92,202.70 L443.86,203.20 L443.80,203.70 L443.75,204.20 L443.69,204.70 L443.64,205.20 L443.59,205.70 L443.54,206.20 L443.49,206.70 L443.45,207.20 L443.41,207.70 L443.37,208.20 L443.34,208.70 L443.30,209.20 L443.28,209.70 L443.25,210.20 L443.23,210.70 L443.20,211.20 L443.18,211.70 L443.16,212.20 L443.14,212.70 L443.12,213.20 L443.11,213.70 L443.09,214.20 L443.07,214.70 L443.06,215.20 L443.04,215.70 L443.03,216.20 L443.02,216.70 L443.00,217.20 L442.99,217.70 L442.98,218.20 L442.97,218.70 L442.96,219.20 L442.95,219.70 L442.94,220.20 L442.93,220.70 L442.92,221.20 L442.91,221.70 L442.90,222.20 L442.90,222.70 L442.89,223.20 L442.88,223.70 L442.87,224.20 L442.86,224.70 L442.84,225.20 L442.83,225.70 L442.81,226.20 L442.79,226.70 L442.76,227.20 L442.74,227.70 L442.71,228.20 L442.68,228.70 L442.65,229.20 L442.62,229.70 L442.59,230.20 L442.56,230.70 L442.52,231.20 L442.49,231.70 L442.45,232.20 L442.42,232.70 L442.38,233.20 L442.34,233.70 L442.30,234.20 L442.25,234.70 L442.21,235.20 L442.17,235.70 L442.13,236.20 L442.09,236.70 L442.05,237.20 L442.02,237.70 L441.98,238.20 L441.95,238.70 L441.92,239.20 L441.89,239.70 L441.86,240.20 L441.83,240.70 L441.81,241.20 L441.78,241.70 L441.75,242.20 L441.73,242.70 L441.70,243.20 L441.68,243.70 L441.65,244.20 L441.63,244.70 L441.61,245.20 L441.59,245.70 L441.56,246.20 L441.54,246.70 L441.52,247.20 L441.49,247.70 L441.47,248.20 L441.45,248.70 L441.42,249.20 L441.40,249.70 L441.38,250.20 L441.35,250.70 L441.33,251.20 L441.31,251.70 L441.30,252.20 L441.28,252.70 L441.27,253.20 L441.26,253.70 L441.25,254.20 L441.25,254.70 L441.24,255.20 L441.24,255.70 L441.24,256.20 L441.24,256.70 L441.24,257.20 L441.24,257.70 L441.23,258.20 L441.23,258.70 L441.23,259.20 L441.23,259.70 L441.23,260.20 L441.23,260.70 L441.22,261.20 L441.22,261.70 L441.22,262.20 L441.21,262.70 L441.21,263.20 L441.20,263.70 L441.20,264.20 L441.19,264.70 L441.18,265.20 L441.17,265.70 L441.17,266.20 L441.16,266.70 L441.15,267.20 L441.14,267.70 L441.13,268.20 L441.12,268.70 L441.10,269.20 L441.10,269.40 L441.10,269.40 L441.10,269.20 L441.08,268.70 L441.07,268.20 L441.06,267.70 L441.05,267.20 L441.04,266.70 L441.03,266.20 L441.03,265.70 L441.02,265.20 L441.01,264.70 L441.00,264.20 L441.00,263.70 L440.99,263.20 L440.99,262.70 L440.98,262.20 L440.98,261.70 L440.98,261.20 L440.97,260.70 L440.97,260.20 L440.97,259.70 L440.97,259.20 L440.97,258.70 L440.97,258.20 L440.96,257.70 L440.96,257.20 L440.96,256.70 L440.96,256.20 L440.96,255.70 L440.96,255.20 L440.95,254.70 L440.95,254.20 L440.94,253.70 L440.93,253.20 L440.92,252.70 L440.90,252.20 L440.89,251.70 L440.87,251.20 L440.85,250.70 L440.82,250.20 L440.80,249.70 L440.78,249.20 L440.75,248.70 L440.73,248.20 L440.71,247.70 L440.68,247.20 L440.66,246.70 L440.64,246.20 L440.61,245.70 L440.59,245.20 L440.57,244.70 L440.55,244.20 L440.52,243.70 L440.50,243.20 L440.47,242.70 L440.45,242.20 L440.42,241.70 L440.39,241.20 L440.37,240.70 L440.34,240.20 L440.31,239.70 L440.28,239.20 L440.25,238.70 L440.22,238.20 L440.18,237.70 L440.15,237.20 L440.11,236.70 L440.07,236.20 L440.03,235.70 L439.99,235.20 L439.95,234.70 L439.90,234.20 L439.86,233.70 L439.82,233.20 L439.78,232.70 L439.75,232.20 L439.71,231.70 L439.68,231.20 L439.64,230.70 L439.61,230.20 L439.58,229.70 L439.55,229.20 L439.52,228.70 L439.49,228.20 L439.46,227.70 L439.44,227.20 L439.41,226.70 L439.39,226.20 L439.37,225.70 L439.36,225.20 L439.34,224.70 L439.33,224.20 L439.32,223.70 L439.31,223.20 L439.30,222.70 L439.30,222.20 L439.29,221.70 L439.28,221.20 L439.27,220.70 L439.26,220.20 L439.25,219.70 L439.24,219.20 L439.23,218.70 L439.22,218.20 L439.21,217.70 L439.20,217.20 L439.18,216.70 L439.17,216.20 L439.16,215.70 L439.14,215.20 L439.13,214.70 L439.11,214.20 L439.09,213.70 L439.08,213.20 L439.06,212.70 L439.04,212.20 L439.02,211.70 L439.00,211.20 L438.97,210.70 L438.95,210.20 L438.92,209.70 L438.90,209.20 L438.86,208.70 L438.83,208.20 L438.79,207.70 L438.75,207.20 L438.71,206.70 L438.66,206.20 L438.61,205.70 L438.56,205.20 L438.51,204.70 L438.45,204.20 L438.40,203.70 L438.34,203.20 L438.28,202.70 L438.21,202.20 L438.15,201.70 L438.08,201.20 L438.01,200.70 L437.93,200.20 L437.84,199.70 L437.74,199.20 L437.63,198.70 L437.52,198.20 L437.40,197.70 L437.28,197.20 L437.15,196.70 L437.02,196.20 L436.88,195.70 L436.75,195.20 L436.61,194.70 L436.48,194.20 L436.34,193.70 L436.21,193.20 L436.08,192.70 L435.95,192.20 L435.83,191.70 L435.70,191.20 L435.58,190.70 L435.46,190.20 L435.33,189.70 L435.21,189.20 L435.09,188.70 L434.96,188.20 L434.84,187.70 L434.71,187.20 L434.59,186.70 L434.46,186.20 L434.34,185.70 L434.21,185.20 L434.08,184.70 L433.96,184.20 L433.83,183.70 L433.70,183.20 L433.58,182.70 L433.45,182.20 L433.32,181.70 L433.19,181.20 L433.06,180.70 L432.93,180.20 L432.80,179.70 L432.67,179.20 L432.53,178.70 L432.40,178.20 L432.27,177.70 L432.14,177.20 L432.01,176.70 L431.88,176.20 L431.75,175.70 L431.61,175.20 L431.48,174.70 L431.36,174.20 L431.23,173.70 L431.10,173.20 L430.97,172.70 L430.83,172.20 L430.70,171.70 L430.56,171.20 L430.42,170.70 L430.28,170.20 L430.14,169.70 L430.01,169.20 L429.87,168.70 L429.74,168.20 L429.61,167.70 L429.48,167.20 L429.36,166.70 L429.25,166.20 L429.14,165.70 L429.03,165.20 L428.94,164.70 L428.85,164.20 L428.77,163.70 L428.68,163.20 L428.60,162.70 L428.52,162.20 L428.44,161.70 L428.36,161.20 L428.29,160.70 L428.21,160.20 L428.14,159.70 L428.07,159.20 L428.01,158.70 L427.95,158.20 L427.89,157.70 L427.84,157.20 L427.79,156.70 L427.75,156.20 L427.71,155.70 L427.68,155.20 L427.66,154.70 L427.64,154.20 L427.62,153.70 L427.60,153.20 L427.59,152.70 L427.57,152.20 L427.56,151.70 L427.54,151.20 L427.53,150.70 L427.52,150.20 L427.50,149.70 L427.49,149.20 L427.48,148.70 L427.48,148.20 L427.47,147.70 L427.46,147.20 L427.46,146.70 L427.45,146.20 L427.45,145.70 L427.45,145.20 L427.45,144.70 L427.45,144.20 L427.45,143.70 L427.45,143.20 L427.45,142.70 L427.45,142.20 L427.45,141.70 L427.45,141.20 L427.45,140.70 L427.45,140.20 L427.45,139.70 L427.45,139.20 L427.45,138.70 L427.45,138.20 L427.45,137.70 L427.45,137.20 L427.45,136.70 L427.45,136.20 L427.45,135.70 L427.46,135.20 L427.47,134.70 L427.48,134.20 L427.51,133.70 L427.53,133.20 L427.56,132.70 L427.59,132.20 L427.63,131.70 L427.66,131.20 L427.70,130.70 L427.74,130.20 L427.79,129.70 L427.83,129.20 L427.88,128.70 L427.92,128.20 L427.97,127.70 L428.01,127.20 L428.06,126.70 L428.11,126.20 L428.16,125.70 L428.21,125.20 L428.27,124.70 L428.33,124.20 L428.39,123.70 L428.45,123.20 L428.52,122.70 L428.59,122.20 L428.66,121.70 L428.74,121.20 L428.82,120.70 L428.90,120.20 L428.98,119.70 L429.07,119.20 L429.15,118.70 L429.24,118.20 L429.33,117.70 L429.43,117.20 L429.52,116.70 L429.63,116.20 L429.74,115.70 L429.85,115.20 L429.97,114.70 L430.10,114.20 L430.22,113.70 L430.36,113.20 L430.49,112.70 L430.63,112.20 L430.77,111.70 L430.91,111.20 L431.06,110.70 L431.21,110.20 L431.36,109.70 L431.51,109.20 L431.66,108.70 L431.81,108.20 L431.97,107.70 L432.13,107.20 L432.30,106.70 L432.46,106.20 L432.64,105.70 L432.82,105.20 L433.00,104.70 L433.18,104.20 L433.37,103.70 L433.55,103.20 L433.75,102.70 L433.94,102.20 L434.14,101.70 L434.34,101.20 L434.54,100.70 L434.74,100.20 L434.94,99.70 L435.15,99.20 L435.37,98.70 L435.61,98.20 L435.87,97.70 L436.13,97.20 L436.38,96.70 L436.61,96.20 L436.82,95.70 L436.99,95.20 L437.13,94.70 L437.25,94.20 L437.36,93.70 L437.46,93.20 L437.56,92.70 L437.65,92.20 L437.73,91.70 L437.81,91.20 L437.88,90.70 L437.95,90.20 L438.02,89.70 L438.09,89.20 L438.16,88.70 L438.22,88.20 L438.29,87.70 L438.35,87.20 L438.41,86.70 L438.47,86.20 L438.52,85.70 L438.58,85.20 L438.63,84.70 L438.68,84.20 L438.73,83.70 L438.78,83.20 L438.83,82.70 L438.88,82.20 L438.92,81.70 L438.97,81.20 L439.01,80.70 L439.05,80.20 L439.09,79.70 L439.13,79.20 L439.17,78.70 L439.20,78.20 L439.24,77.70 L439.28,77.20 L439.31,76.70 L439.34,76.20 L439.38,75.70 L439.41,75.20 L439.44,74.70 L439.47,74.20 L439.50,73.70 L439.53,73.20 L439.56,72.70 L439.59,72.20 L439.61,71.70 L439.64,71.20 L439.67,70.70 L439.69,70.20 L439.72,69.70 L439.74,69.20 L439.76,68.70 L439.79,68.20 L439.81,67.70 L439.83,67.20 L439.85,66.70 L439.88,66.20 L439.90,65.70 L439.92,65.20 L439.94,64.70 L439.96,64.20 L439.98,63.70 L440.00,63.20 L440.02,62.70 L440.04,62.20 L440.05,61.70 L440.07,61.20 L440.09,60.70 L440.11,60.20 L440.12,59.70 L440.14,59.20 L440.15,58.70 L440.17,58.20 L440.18,57.70 L440.20,57.20 L440.21,56.70 L440.22,56.20 L440.24,55.70 L440.26,55.20 L440.27,54.70 L440.29,54.20 L440.31,53.70 L440.33,53.20 L440.35,52.70 L440.37,52.20 L440.39,51.70 L440.42,51.20 L440.44,50.70 L440.47,50.20 L440.50,49.70 L440.53,49.20 L440.56,48.70 L440.59,48.20 L440.61,47.70 L440.64,47.20 L440.66,46.70 L440.69,46.20 L440.71,45.70 L440.74,45.20 L440.76,44.70 L440.79,44.20 L440.81,43.70 L440.84,43.20 L440.86,42.70 L440.88,42.20 L440.90,41.70 L440.92,41.20 L440.93,40.70 L440.95,40.20 L440.96,39.70 L440.97,39.20 L440.98,38.70 L440.99,38.20 L441.00,37.70 L441.01,37.20 L441.02,36.70 L441.03,36.20 L441.04,35.70 L441.05,35.20 L441.06,34.70 L441.07,34.20 L441.07,33.70 L441.08,33.20 L441.09,32.70 L441.09,32.20 L441.10,31.70 L441.10,31.20 L441.10,30.70 L441.10,30.20Z" fill="#5251fe" stroke="url(#g5)" stroke-width="0.85" stroke-linejoin="round"/>
<line x1="441.1" y1="76.4" x2="441.1" y2="187.2" stroke="#3a3a3a" stroke-width="0.75"/>
<rect x="439.45" y="120.9" width="3.3" height="40.00" fill="#fff" stroke="#3a3a3a" stroke-width="0.7"/>
<line x1="439.45" y1="145.2" x2="442.75" y2="145.2" stroke="#222" stroke-width="1.0"/>
<circle cx="441.1" cy="223.2" r="1.7" fill="#2a2a2a"/>
<linearGradient id="g6" gradientUnits="userSpaceOnUse" x1="0" y1="92" x2="0" y2="253.5"><stop offset="0" stop-color="#404040"/><stop offset="0.0062" stop-color="#404040"/><stop offset="0.9938" stop-color="#404040"/><stop offset="1" stop-color="#404040"/></linearGradient>
<path d="M506.00,92.00 L506.00,92.50 L506.02,93.00 L506.04,93.50 L506.06,94.00 L506.09,94.50 L506.12,95.00 L506.16,95.50 L506.20,96.00 L506.26,96.50 L506.33,97.00 L506.40,97.50 L506.48,98.00 L506.57,98.50 L506.67,99.00 L506.79,99.50 L506.93,100.00 L507.08,100.50 L507.25,101.00 L507.42,101.50 L507.61,102.00 L507.80,102.50 L507.99,103.00 L508.19,103.50 L508.39,104.00 L508.60,104.50 L508.83,105.00 L509.07,105.50 L509.32,106.00 L509.58,106.50 L509.84,107.00 L510.10,107.50 L510.36,108.00 L510.65,108.50 L510.94,109.00 L511.24,109.50 L511.54,110.00 L511.83,110.50 L512.10,111.00 L512.34,111.50 L512.55,112.00 L512.75,112.50 L512.95,113.00 L513.15,113.50 L513.34,114.00 L513.51,114.50 L513.67,115.00 L513.80,115.50 L513.89,116.00 L513.94,116.50 L513.95,117.00 L513.93,117.50 L513.89,118.00 L513.83,118.50 L513.76,119.00 L513.68,119.50 L513.60,120.00 L513.52,120.50 L513.45,121.00 L513.37,121.50 L513.27,122.00 L513.15,122.50 L513.03,123.00 L512.91,123.50 L512.80,124.00 L512.70,124.50 L512.62,125.00 L512.57,125.50 L512.55,126.00 L512.55,126.50 L512.56,127.00 L512.57,127.50 L512.58,128.00 L512.60,128.50 L512.62,129.00 L512.64,129.50 L512.66,130.00 L512.69,130.50 L512.71,131.00 L512.74,131.50 L512.78,132.00 L512.85,132.50 L512.93,133.00 L513.03,133.50 L513.13,134.00 L513.25,134.50 L513.37,135.00 L513.49,135.50 L513.61,136.00 L513.71,136.50 L513.81,137.00 L513.93,137.50 L514.05,138.00 L514.16,138.50 L514.26,139.00 L514.32,139.50 L514.35,140.00 L514.34,140.50 L514.30,141.00 L514.25,141.50 L514.18,142.00 L514.10,142.50 L514.02,143.00 L513.93,143.50 L513.84,144.00 L513.75,144.50 L513.65,145.00 L513.52,145.50 L513.38,146.00 L513.23,146.50 L513.09,147.00 L512.97,147.50 L512.89,148.00 L512.85,148.50 L512.87,149.00 L512.95,149.50 L513.07,150.00 L513.25,150.50 L513.46,151.00 L513.71,151.50 L513.99,152.00 L514.29,152.50 L514.62,153.00 L515.13,153.50 L515.85,154.00 L516.74,154.50 L517.73,155.00 L518.78,155.50 L519.82,156.00 L520.81,156.50 L521.70,157.00 L522.59,157.50 L523.49,158.00 L524.40,158.50 L525.29,159.00 L526.15,159.50 L526.97,160.00 L527.73,160.50 L528.42,161.00 L529.09,161.50 L529.73,162.00 L530.35,162.50 L530.94,163.00 L531.48,163.50 L531.97,164.00 L532.40,164.50 L532.78,165.00 L533.16,165.50 L533.53,166.00 L533.89,166.50 L534.20,167.00 L534.46,167.50 L534.65,168.00 L534.74,168.50 L534.73,169.00 L534.63,169.50 L534.46,170.00 L534.21,170.50 L533.91,171.00 L533.58,171.50 L533.21,172.00 L532.83,172.50 L532.38,173.00 L531.77,173.50 L531.02,174.00 L530.17,174.50 L529.27,175.00 L528.33,175.50 L527.40,176.00 L526.52,176.50 L525.66,177.00 L524.77,177.50 L523.85,178.00 L522.92,178.50 L522.01,179.00 L521.13,179.50 L520.30,180.00 L519.55,180.50 L518.83,181.00 L518.10,181.50 L517.39,182.00 L516.71,182.50 L516.09,183.00 L515.54,183.50 L515.09,184.00 L514.75,184.50 L514.48,185.00 L514.22,185.50 L513.97,186.00 L513.76,186.50 L513.58,187.00 L513.45,187.50 L513.37,188.00 L513.35,188.50 L513.36,189.00 L513.38,189.50 L513.41,190.00 L513.45,190.50 L513.49,191.00 L513.53,191.50 L513.58,192.00 L513.62,192.50 L513.66,193.00 L513.70,193.50 L513.73,194.00 L513.74,194.50 L513.75,195.00 L513.72,195.50 L513.63,196.00 L513.50,196.50 L513.33,197.00 L513.13,197.50 L512.93,198.00 L512.72,198.50 L512.52,199.00 L512.34,199.50 L512.14,200.00 L511.92,200.50 L511.70,201.00 L511.47,201.50 L511.23,202.00 L511.00,202.50 L510.77,203.00 L510.56,203.50 L510.35,204.00 L510.15,204.50 L509.94,205.00 L509.73,205.50 L509.53,206.00 L509.34,206.50 L509.15,207.00 L508.99,207.50 L508.85,208.00 L508.73,208.50 L508.62,209.00 L508.51,209.50 L508.41,210.00 L508.32,210.50 L508.27,211.00 L508.25,211.50 L508.27,212.00 L508.34,212.50 L508.44,213.00 L508.57,213.50 L508.71,214.00 L508.85,214.50 L509.03,215.00 L509.26,215.50 L509.53,216.00 L509.82,216.50 L510.12,217.00 L510.40,217.50 L510.67,218.00 L510.96,218.50 L511.26,219.00 L511.57,219.50 L511.87,220.00 L512.14,220.50 L512.39,221.00 L512.60,221.50 L512.75,222.00 L512.87,222.50 L512.99,223.00 L513.10,223.50 L513.21,224.00 L513.30,224.50 L513.39,225.00 L513.46,225.50 L513.51,226.00 L513.54,226.50 L513.55,227.00 L513.54,227.50 L513.50,228.00 L513.43,228.50 L513.35,229.00 L513.26,229.50 L513.15,230.00 L513.03,230.50 L512.90,231.00 L512.78,231.50 L512.65,232.00 L512.53,232.50 L512.39,233.00 L512.25,233.50 L512.09,234.00 L511.92,234.50 L511.74,235.00 L511.55,235.50 L511.36,236.00 L511.16,236.50 L510.95,237.00 L510.75,237.50 L510.54,238.00 L510.33,238.50 L510.13,239.00 L509.93,239.50 L509.73,240.00 L509.52,240.50 L509.30,241.00 L509.08,241.50 L508.85,242.00 L508.63,242.50 L508.40,243.00 L508.19,243.50 L507.98,244.00 L507.79,244.50 L507.62,245.00 L507.45,245.50 L507.30,246.00 L507.15,246.50 L507.01,247.00 L506.87,247.50 L506.75,248.00 L506.64,248.50 L506.55,249.00 L506.47,249.50 L506.39,250.00 L506.31,250.50 L506.24,251.00 L506.17,251.50 L506.12,252.00 L506.07,252.50 L506.03,253.00 L506.00,253.50 L506.00,253.50 L505.97,253.00 L505.93,252.50 L505.88,252.00 L505.83,251.50 L505.76,251.00 L505.69,250.50 L505.61,250.00 L505.53,249.50 L505.45,249.00 L505.36,248.50 L505.25,248.00 L505.13,247.50 L504.99,247.00 L504.85,246.50 L504.70,246.00 L504.55,245.50 L504.38,245.00 L504.21,244.50 L504.02,244.00 L503.81,243.50 L503.60,243.00 L503.37,242.50 L503.15,242.00 L502.92,241.50 L502.70,241.00 L502.48,240.50 L502.27,240.00 L502.07,239.50 L501.87,239.00 L501.67,238.50 L501.46,238.00 L501.25,237.50 L501.05,237.00 L500.84,236.50 L500.64,236.00 L500.45,235.50 L500.26,235.00 L500.08,234.50 L499.91,234.00 L499.75,233.50 L499.61,233.00 L499.47,232.50 L499.35,232.00 L499.22,231.50 L499.10,231.00 L498.97,230.50 L498.85,230.00 L498.74,229.50 L498.65,229.00 L498.57,228.50 L498.50,228.00 L498.46,227.50 L498.45,227.00 L498.46,226.50 L498.49,226.00 L498.54,225.50 L498.61,225.00 L498.70,224.50 L498.79,224.00 L498.90,223.50 L499.01,223.00 L499.13,222.50 L499.25,222.00 L499.40,221.50 L499.61,221.00 L499.86,220.50 L500.13,220.00 L500.43,219.50 L500.74,219.00 L501.04,218.50 L501.33,218.00 L501.60,217.50 L501.88,217.00 L502.18,216.50 L502.47,216.00 L502.74,215.50 L502.97,215.00 L503.15,214.50 L503.29,214.00 L503.43,213.50 L503.56,213.00 L503.66,212.50 L503.73,212.00 L503.75,211.50 L503.73,211.00 L503.68,210.50 L503.59,210.00 L503.49,209.50 L503.38,209.00 L503.27,208.50 L503.15,208.00 L503.01,207.50 L502.85,207.00 L502.66,206.50 L502.47,206.00 L502.27,205.50 L502.06,205.00 L501.85,204.50 L501.65,204.00 L501.44,203.50 L501.23,203.00 L501.00,202.50 L500.77,202.00 L500.53,201.50 L500.30,201.00 L500.08,200.50 L499.86,200.00 L499.66,199.50 L499.48,199.00 L499.28,198.50 L499.07,198.00 L498.87,197.50 L498.67,197.00 L498.50,196.50 L498.37,196.00 L498.28,195.50 L498.25,195.00 L498.26,194.50 L498.27,194.00 L498.30,193.50 L498.34,193.00 L498.38,192.50 L498.42,192.00 L498.47,191.50 L498.51,191.00 L498.55,190.50 L498.59,190.00 L498.62,189.50 L498.64,189.00 L498.65,188.50 L498.63,188.00 L498.55,187.50 L498.42,187.00 L498.24,186.50 L498.03,186.00 L497.78,185.50 L497.52,185.00 L497.25,184.50 L496.91,184.00 L496.46,183.50 L495.91,183.00 L495.29,182.50 L494.61,182.00 L493.90,181.50 L493.17,181.00 L492.45,180.50 L491.70,180.00 L490.87,179.50 L489.99,179.00 L489.08,178.50 L488.15,178.00 L487.23,177.50 L486.34,177.00 L485.48,176.50 L484.60,176.00 L483.67,175.50 L482.73,175.00 L481.83,174.50 L480.98,174.00 L480.23,173.50 L479.62,173.00 L479.17,172.50 L478.79,172.00 L478.42,171.50 L478.09,171.00 L477.79,170.50 L477.54,170.00 L477.37,169.50 L477.27,169.00 L477.26,168.50 L477.35,168.00 L477.54,167.50 L477.80,167.00 L478.11,166.50 L478.47,166.00 L478.84,165.50 L479.22,165.00 L479.60,164.50 L480.03,164.00 L480.52,163.50 L481.06,163.00 L481.65,162.50 L482.27,162.00 L482.91,161.50 L483.58,161.00 L484.27,160.50 L485.03,160.00 L485.85,159.50 L486.71,159.00 L487.60,158.50 L488.51,158.00 L489.41,157.50 L490.30,157.00 L491.19,156.50 L492.18,156.00 L493.22,155.50 L494.27,155.00 L495.26,154.50 L496.15,154.00 L496.87,153.50 L497.38,153.00 L497.71,152.50 L498.01,152.00 L498.29,151.50 L498.54,151.00 L498.75,150.50 L498.93,150.00 L499.05,149.50 L499.13,149.00 L499.15,148.50 L499.11,148.00 L499.03,147.50 L498.91,147.00 L498.77,146.50 L498.62,146.00 L498.48,145.50 L498.35,145.00 L498.25,144.50 L498.16,144.00 L498.07,143.50 L497.98,143.00 L497.90,142.50 L497.82,142.00 L497.75,141.50 L497.70,141.00 L497.66,140.50 L497.65,140.00 L497.68,139.50 L497.74,139.00 L497.84,138.50 L497.95,138.00 L498.07,137.50 L498.19,137.00 L498.29,136.50 L498.39,136.00 L498.51,135.50 L498.63,135.00 L498.75,134.50 L498.87,134.00 L498.97,133.50 L499.07,133.00 L499.15,132.50 L499.22,132.00 L499.26,131.50 L499.29,131.00 L499.31,130.50 L499.34,130.00 L499.36,129.50 L499.38,129.00 L499.40,128.50 L499.42,128.00 L499.43,127.50 L499.44,127.00 L499.45,126.50 L499.45,126.00 L499.43,125.50 L499.38,125.00 L499.30,124.50 L499.20,124.00 L499.09,123.50 L498.97,123.00 L498.85,122.50 L498.73,122.00 L498.63,121.50 L498.55,121.00 L498.48,120.50 L498.40,120.00 L498.32,119.50 L498.24,119.00 L498.17,118.50 L498.11,118.00 L498.07,117.50 L498.05,117.00 L498.06,116.50 L498.11,116.00 L498.20,115.50 L498.33,115.00 L498.49,114.50 L498.66,114.00 L498.85,113.50 L499.05,113.00 L499.25,112.50 L499.45,112.00 L499.66,111.50 L499.90,111.00 L500.17,110.50 L500.46,110.00 L500.76,109.50 L501.06,109.00 L501.35,108.50 L501.64,108.00 L501.90,107.50 L502.16,107.00 L502.42,106.50 L502.68,106.00 L502.93,105.50 L503.17,105.00 L503.40,104.50 L503.61,104.00 L503.81,103.50 L504.01,103.00 L504.20,102.50 L504.39,102.00 L504.58,101.50 L504.75,101.00 L504.92,100.50 L505.07,100.00 L505.21,99.50 L505.33,99.00 L505.43,98.50 L505.52,98.00 L505.60,97.50 L505.67,97.00 L505.74,96.50 L505.80,96.00 L505.84,95.50 L505.88,95.00 L505.91,94.50 L505.94,94.00 L505.96,93.50 L505.98,93.00 L506.00,92.50 L506.00,92.00Z" fill="#cd3e31" stroke="url(#g6)" stroke-width="0.85" stroke-linejoin="round"/>
<line x1="506.0" y1="140.5" x2="506.0" y2="196.4" stroke="#3a3a3a" stroke-width="0.75"/>
<rect x="504.35" y="159.7" width="3.3" height="19.80" fill="#fff" stroke="#3a3a3a" stroke-width="0.7"/>
<line x1="504.35" y1="168.4" x2="507.65" y2="168.4" stroke="#222" stroke-width="1.0"/>
<circle cx="506.0" cy="117.8" r="1.7" fill="#2a2a2a"/>
<circle cx="506.0" cy="228.3" r="1.7" fill="#2a2a2a"/>
<linearGradient id="g7" gradientUnits="userSpaceOnUse" x1="0" y1="70.1" x2="0" y2="289.5"><stop offset="0" stop-color="#808080"/><stop offset="0.0365" stop-color="#404040"/><stop offset="0.9635" stop-color="#404040"/><stop offset="1" stop-color="#888888"/></linearGradient>
<path d="M571.00,70.10 L571.01,70.60 L571.02,71.10 L571.02,71.60 L571.03,72.10 L571.04,72.60 L571.05,73.10 L571.05,73.60 L571.06,74.10 L571.07,74.60 L571.08,75.10 L571.08,75.60 L571.09,76.10 L571.10,76.60 L571.11,77.10 L571.11,77.60 L571.12,78.10 L571.13,78.60 L571.13,79.10 L571.14,79.60 L571.15,80.10 L571.15,80.60 L571.16,81.10 L571.16,81.60 L571.17,82.10 L571.17,82.60 L571.18,83.10 L571.18,83.60 L571.19,84.10 L571.20,84.60 L571.20,85.10 L571.21,85.60 L571.22,86.10 L571.23,86.60 L571.24,87.10 L571.25,87.60 L571.26,88.10 L571.28,88.60 L571.30,89.10 L571.33,89.60 L571.36,90.10 L571.39,90.60 L571.42,91.10 L571.46,91.60 L571.50,92.10 L571.54,92.60 L571.58,93.10 L571.63,93.60 L571.67,94.10 L571.72,94.60 L571.77,95.10 L571.82,95.60 L571.88,96.10 L571.93,96.60 L571.98,97.10 L572.04,97.60 L572.11,98.10 L572.17,98.60 L572.25,99.10 L572.32,99.60 L572.41,100.10 L572.49,100.60 L572.58,101.10 L572.67,101.60 L572.76,102.10 L572.86,102.60 L572.96,103.10 L573.06,103.60 L573.16,104.10 L573.26,104.60 L573.36,105.10 L573.47,105.60 L573.57,106.10 L573.68,106.60 L573.79,107.10 L573.91,107.60 L574.03,108.10 L574.15,108.60 L574.27,109.10 L574.40,109.60 L574.53,110.10 L574.67,110.60 L574.80,111.10 L574.94,111.60 L575.08,112.10 L575.22,112.60 L575.36,113.10 L575.50,113.60 L575.64,114.10 L575.78,114.60 L575.92,115.10 L576.06,115.60 L576.20,116.10 L576.35,116.60 L576.49,117.10 L576.63,117.60 L576.78,118.10 L576.93,118.60 L577.07,119.10 L577.22,119.60 L577.37,120.10 L577.53,120.60 L577.68,121.10 L577.83,121.60 L577.99,122.10 L578.14,122.60 L578.30,123.10 L578.46,123.60 L578.62,124.10 L578.78,124.60 L578.95,125.10 L579.12,125.60 L579.30,126.10 L579.48,126.60 L579.66,127.10 L579.85,127.60 L580.02,128.10 L580.20,128.60 L580.37,129.10 L580.53,129.60 L580.68,130.10 L580.83,130.60 L580.98,131.10 L581.13,131.60 L581.27,132.10 L581.41,132.60 L581.53,133.10 L581.64,133.60 L581.73,134.10 L581.81,134.60 L581.90,135.10 L581.98,135.60 L582.05,136.10 L582.13,136.60 L582.21,137.10 L582.28,137.60 L582.35,138.10 L582.41,138.60 L582.47,139.10 L582.53,139.60 L582.58,140.10 L582.62,140.60 L582.66,141.10 L582.70,141.60 L582.72,142.10 L582.74,142.60 L582.75,143.10 L582.75,143.60 L582.75,144.10 L582.75,144.60 L582.75,145.10 L582.75,145.60 L582.75,146.10 L582.75,146.60 L582.75,147.10 L582.75,147.60 L582.75,148.10 L582.75,148.60 L582.75,149.10 L582.75,149.60 L582.75,150.10 L582.75,150.60 L582.75,151.10 L582.75,151.60 L582.75,152.10 L582.75,152.60 L582.75,153.10 L582.74,153.60 L582.73,154.10 L582.72,154.60 L582.71,155.10 L582.69,155.60 L582.67,156.10 L582.65,156.60 L582.62,157.10 L582.60,157.60 L582.57,158.10 L582.54,158.60 L582.51,159.10 L582.48,159.60 L582.45,160.10 L582.42,160.60 L582.39,161.10 L582.36,161.60 L582.33,162.10 L582.30,162.60 L582.26,163.10 L582.22,163.60 L582.18,164.10 L582.13,164.60 L582.09,165.10 L582.04,165.60 L581.99,166.10 L581.94,166.60 L581.89,167.10 L581.84,167.60 L581.79,168.10 L581.75,168.60 L581.70,169.10 L581.66,169.60 L581.62,170.10 L581.58,170.60 L581.54,171.10 L581.51,171.60 L581.48,172.10 L581.45,172.60 L581.42,173.10 L581.39,173.60 L581.37,174.10 L581.34,174.60 L581.32,175.10 L581.29,175.60 L581.27,176.10 L581.24,176.60 L581.22,177.10 L581.19,177.60 L581.17,178.10 L581.14,178.60 L581.11,179.10 L581.08,179.60 L581.06,180.10 L581.03,180.60 L581.00,181.10 L580.96,181.60 L580.93,182.10 L580.90,182.60 L580.87,183.10 L580.83,183.60 L580.80,184.10 L580.77,184.60 L580.73,185.10 L580.70,185.60 L580.66,186.10 L580.63,186.60 L580.60,187.10 L580.57,187.60 L580.53,188.10 L580.50,188.60 L580.47,189.10 L580.44,189.60 L580.42,190.10 L580.39,190.60 L580.36,191.10 L580.34,191.60 L580.31,192.10 L580.29,192.60 L580.26,193.10 L580.24,193.60 L580.22,194.10 L580.19,194.60 L580.17,195.10 L580.14,195.60 L580.12,196.10 L580.10,196.60 L580.07,197.10 L580.04,197.60 L580.01,198.10 L579.99,198.60 L579.96,199.10 L579.93,199.60 L579.89,200.10 L579.86,200.60 L579.83,201.10 L579.80,201.60 L579.76,202.10 L579.73,202.60 L579.69,203.10 L579.66,203.60 L579.62,204.10 L579.58,204.60 L579.54,205.10 L579.50,205.60 L579.46,206.10 L579.42,206.60 L579.37,207.10 L579.33,207.60 L579.28,208.10 L579.23,208.60 L579.18,209.10 L579.12,209.60 L579.06,210.10 L579.00,210.60 L578.93,211.10 L578.86,211.60 L578.79,212.10 L578.72,212.60 L578.65,213.10 L578.57,213.60 L578.49,214.10 L578.42,214.60 L578.34,215.10 L578.26,215.60 L578.18,216.10 L578.10,216.60 L578.03,217.10 L577.95,217.60 L577.87,218.10 L577.80,218.60 L577.72,219.10 L577.64,219.60 L577.56,220.10 L577.48,220.60 L577.40,221.10 L577.32,221.60 L577.24,222.10 L577.16,222.60 L577.08,223.10 L576.99,223.60 L576.91,224.10 L576.83,224.60 L576.74,225.10 L576.66,225.60 L576.57,226.10 L576.48,226.60 L576.40,227.10 L576.31,227.60 L576.22,228.10 L576.12,228.60 L576.03,229.10 L575.93,229.60 L575.84,230.10 L575.74,230.60 L575.64,231.10 L575.55,231.60 L575.45,232.10 L575.35,232.60 L575.26,233.10 L575.17,233.60 L575.08,234.10 L574.99,234.60 L574.90,235.10 L574.82,235.60 L574.73,236.10 L574.65,236.60 L574.58,237.10 L574.50,237.60 L574.42,238.10 L574.35,238.60 L574.27,239.10 L574.20,239.60 L574.13,240.10 L574.06,240.60 L573.99,241.10 L573.92,241.60 L573.85,242.10 L573.78,242.60 L573.72,243.10 L573.65,243.60 L573.59,244.10 L573.52,244.60 L573.46,245.10 L573.40,245.60 L573.34,246.10 L573.28,246.60 L573.23,247.10 L573.17,247.60 L573.12,248.10 L573.07,248.60 L573.01,249.10 L572.96,249.60 L572.91,250.10 L572.86,250.60 L572.81,251.10 L572.75,251.60 L572.70,252.10 L572.65,252.60 L572.60,253.10 L572.55,253.60 L572.49,254.10 L572.44,254.60 L572.38,255.10 L572.33,255.60 L572.27,256.10 L572.21,256.60 L572.15,257.10 L572.09,257.60 L572.04,258.10 L571.98,258.60 L571.93,259.10 L571.88,259.60 L571.84,260.10 L571.80,260.60 L571.76,261.10 L571.73,261.60 L571.69,262.10 L571.66,262.60 L571.62,263.10 L571.59,263.60 L571.56,264.10 L571.53,264.60 L571.50,265.10 L571.47,265.60 L571.44,266.10 L571.41,266.60 L571.38,267.10 L571.35,267.60 L571.32,268.10 L571.29,268.60 L571.26,269.10 L571.23,269.60 L571.20,270.10 L571.18,270.60 L571.17,271.10 L571.15,271.60 L571.15,272.10 L571.15,272.60 L571.14,273.10 L571.14,273.60 L571.14,274.10 L571.14,274.60 L571.14,275.10 L571.13,275.60 L571.13,276.10 L571.13,276.60 L571.13,277.10 L571.13,277.60 L571.13,278.10 L571.13,278.60 L571.12,279.10 L571.12,279.60 L571.12,280.10 L571.12,280.60 L571.11,281.10 L571.11,281.60 L571.10,282.10 L571.10,282.60 L571.09,283.10 L571.09,283.60 L571.08,284.10 L571.08,284.60 L571.07,285.10 L571.06,285.60 L571.06,286.10 L571.05,286.60 L571.04,287.10 L571.03,287.60 L571.02,288.10 L571.02,288.60 L571.01,289.10 L571.00,289.50 L571.00,289.50 L570.99,289.10 L570.98,288.60 L570.98,288.10 L570.97,287.60 L570.96,287.10 L570.95,286.60 L570.94,286.10 L570.94,285.60 L570.93,285.10 L570.92,284.60 L570.92,284.10 L570.91,283.60 L570.91,283.10 L570.90,282.60 L570.90,282.10 L570.89,281.60 L570.89,281.10 L570.88,280.60 L570.88,280.10 L570.88,279.60 L570.88,279.10 L570.87,278.60 L570.87,278.10 L570.87,277.60 L570.87,277.10 L570.87,276.60 L570.87,276.10 L570.87,275.60 L570.86,275.10 L570.86,274.60 L570.86,274.10 L570.86,273.60 L570.86,273.10 L570.85,272.60 L570.85,272.10 L570.85,271.60 L570.83,271.10 L570.82,270.60 L570.80,270.10 L570.77,269.60 L570.74,269.10 L570.71,268.60 L570.68,268.10 L570.65,267.60 L570.62,267.10 L570.59,266.60 L570.56,266.10 L570.53,265.60 L570.50,265.10 L570.47,264.60 L570.44,264.10 L570.41,263.60 L570.38,263.10 L570.34,262.60 L570.31,262.10 L570.27,261.60 L570.24,261.10 L570.20,260.60 L570.16,260.10 L570.12,259.60 L570.07,259.10 L570.02,258.60 L569.96,258.10 L569.91,257.60 L569.85,257.10 L569.79,256.60 L569.73,256.10 L569.67,255.60 L569.62,255.10 L569.56,254.60 L569.51,254.10 L569.45,253.60 L569.40,253.10 L569.35,252.60 L569.30,252.10 L569.25,251.60 L569.19,251.10 L569.14,250.60 L569.09,250.10 L569.04,249.60 L568.99,249.10 L568.93,248.60 L568.88,248.10 L568.83,247.60 L568.77,247.10 L568.72,246.60 L568.66,246.10 L568.60,245.60 L568.54,245.10 L568.48,244.60 L568.41,244.10 L568.35,243.60 L568.28,243.10 L568.22,242.60 L568.15,242.10 L568.08,241.60 L568.01,241.10 L567.94,240.60 L567.87,240.10 L567.80,239.60 L567.73,239.10 L567.65,238.60 L567.58,238.10 L567.50,237.60 L567.42,237.10 L567.35,236.60 L567.27,236.10 L567.18,235.60 L567.10,235.10 L567.01,234.60 L566.92,234.10 L566.83,233.60 L566.74,233.10 L566.65,232.60 L566.55,232.10 L566.45,231.60 L566.36,231.10 L566.26,230.60 L566.16,230.10 L566.07,229.60 L565.97,229.10 L565.88,228.60 L565.78,228.10 L565.69,227.60 L565.60,227.10 L565.52,226.60 L565.43,226.10 L565.34,225.60 L565.26,225.10 L565.17,224.60 L565.09,224.10 L565.01,223.60 L564.92,223.10 L564.84,222.60 L564.76,222.10 L564.68,221.60 L564.60,221.10 L564.52,220.60 L564.44,220.10 L564.36,219.60 L564.28,219.10 L564.20,218.60 L564.13,218.10 L564.05,217.60 L563.97,217.10 L563.90,216.60 L563.82,216.10 L563.74,215.60 L563.66,215.10 L563.58,214.60 L563.51,214.10 L563.43,213.60 L563.35,213.10 L563.28,212.60 L563.21,212.10 L563.14,211.60 L563.07,211.10 L563.00,210.60 L562.94,210.10 L562.88,209.60 L562.82,209.10 L562.77,208.60 L562.72,208.10 L562.67,207.60 L562.63,207.10 L562.58,206.60 L562.54,206.10 L562.50,205.60 L562.46,205.10 L562.42,204.60 L562.38,204.10 L562.34,203.60 L562.31,203.10 L562.27,202.60 L562.24,202.10 L562.20,201.60 L562.17,201.10 L562.14,200.60 L562.11,200.10 L562.07,199.60 L562.04,199.10 L562.01,198.60 L561.99,198.10 L561.96,197.60 L561.93,197.10 L561.90,196.60 L561.88,196.10 L561.86,195.60 L561.83,195.10 L561.81,194.60 L561.78,194.10 L561.76,193.60 L561.74,193.10 L561.71,192.60 L561.69,192.10 L561.66,191.60 L561.64,191.10 L561.61,190.60 L561.58,190.10 L561.56,189.60 L561.53,189.10 L561.50,188.60 L561.47,188.10 L561.43,187.60 L561.40,187.10 L561.37,186.60 L561.34,186.10 L561.30,185.60 L561.27,185.10 L561.23,184.60 L561.20,184.10 L561.17,183.60 L561.13,183.10 L561.10,182.60 L561.07,182.10 L561.04,181.60 L561.00,181.10 L560.97,180.60 L560.94,180.10 L560.92,179.60 L560.89,179.10 L560.86,178.60 L560.83,178.10 L560.81,177.60 L560.78,177.10 L560.76,176.60 L560.73,176.10 L560.71,175.60 L560.68,175.10 L560.66,174.60 L560.63,174.10 L560.61,173.60 L560.58,173.10 L560.55,172.60 L560.52,172.10 L560.49,171.60 L560.46,171.10 L560.42,170.60 L560.38,170.10 L560.34,169.60 L560.30,169.10 L560.25,168.60 L560.21,168.10 L560.16,167.60 L560.11,167.10 L560.06,166.60 L560.01,166.10 L559.96,165.60 L559.91,165.10 L559.87,164.60 L559.82,164.10 L559.78,163.60 L559.74,163.10 L559.70,162.60 L559.67,162.10 L559.64,161.60 L559.61,161.10 L559.58,160.60 L559.55,160.10 L559.52,159.60 L559.49,159.10 L559.46,158.60 L559.43,158.10 L559.40,157.60 L559.38,157.10 L559.35,156.60 L559.33,156.10 L559.31,155.60 L559.29,155.10 L559.28,154.60 L559.27,154.10 L559.26,153.60 L559.25,153.10 L559.25,152.60 L559.25,152.10 L559.25,151.60 L559.25,151.10 L559.25,150.60 L559.25,150.10 L559.25,149.60 L559.25,149.10 L559.25,148.60 L559.25,148.10 L559.25,147.60 L559.25,147.10 L559.25,146.60 L559.25,146.10 L559.25,145.60 L559.25,145.10 L559.25,144.60 L559.25,144.10 L559.25,143.60 L559.25,143.10 L559.26,142.60 L559.28,142.10 L559.30,141.60 L559.34,141.10 L559.38,140.60 L559.42,140.10 L559.47,139.60 L559.53,139.10 L559.59,138.60 L559.65,138.10 L559.72,137.60 L559.79,137.10 L559.87,136.60 L559.95,136.10 L560.02,135.60 L560.10,135.10 L560.19,134.60 L560.27,134.10 L560.36,133.60 L560.47,133.10 L560.59,132.60 L560.73,132.10 L560.87,131.60 L561.02,131.10 L561.17,130.60 L561.32,130.10 L561.47,129.60 L561.63,129.10 L561.80,128.60 L561.98,128.10 L562.15,127.60 L562.34,127.10 L562.52,126.60 L562.70,126.10 L562.88,125.60 L563.05,125.10 L563.22,124.60 L563.38,124.10 L563.54,123.60 L563.70,123.10 L563.86,122.60 L564.01,122.10 L564.17,121.60 L564.32,121.10 L564.47,120.60 L564.63,120.10 L564.78,119.60 L564.93,119.10 L565.07,118.60 L565.22,118.10 L565.37,117.60 L565.51,117.10 L565.65,116.60 L565.80,116.10 L565.94,115.60 L566.08,115.10 L566.22,114.60 L566.36,114.10 L566.50,113.60 L566.64,113.10 L566.78,112.60 L566.92,112.10 L567.06,111.60 L567.20,111.10 L567.33,110.60 L567.47,110.10 L567.60,109.60 L567.73,109.10 L567.85,108.60 L567.97,108.10 L568.09,107.60 L568.21,107.10 L568.32,106.60 L568.43,106.10 L568.53,105.60 L568.64,105.10 L568.74,104.60 L568.84,104.10 L568.94,103.60 L569.04,103.10 L569.14,102.60 L569.24,102.10 L569.33,101.60 L569.42,101.10 L569.51,100.60 L569.59,100.10 L569.68,99.60 L569.75,99.10 L569.83,98.60 L569.89,98.10 L569.96,97.60 L570.02,97.10 L570.07,96.60 L570.12,96.10 L570.18,95.60 L570.23,95.10 L570.28,94.60 L570.33,94.10 L570.37,93.60 L570.42,93.10 L570.46,92.60 L570.50,92.10 L570.54,91.60 L570.58,91.10 L570.61,90.60 L570.64,90.10 L570.67,89.60 L570.70,89.10 L570.72,88.60 L570.74,88.10 L570.75,87.60 L570.76,87.10 L570.77,86.60 L570.78,86.10 L570.79,85.60 L570.80,85.10 L570.80,84.60 L570.81,84.10 L570.82,83.60 L570.82,83.10 L570.83,82.60 L570.83,82.10 L570.84,81.60 L570.84,81.10 L570.85,80.60 L570.85,80.10 L570.86,79.60 L570.87,79.10 L570.87,78.60 L570.88,78.10 L570.89,77.60 L570.89,77.10 L570.90,76.60 L570.91,76.10 L570.92,75.60 L570.92,75.10 L570.93,74.60 L570.94,74.10 L570.95,73.60 L570.95,73.10 L570.96,72.60 L570.97,72.10 L570.98,71.60 L570.98,71.10 L570.99,70.60 L571.00,70.10Z" fill="#769a57" stroke="url(#g7)" stroke-width="0.85" stroke-linejoin="round"/>
<line x1="571.0" y1="122.6" x2="571.0" y2="236.0" stroke="#3a3a3a" stroke-width="0.75"/>
<rect x="569.35" y="146.0" width="3.3" height="52.30" fill="#fff" stroke="#3a3a3a" stroke-width="0.7"/>
<line x1="569.35" y1="171.3" x2="572.65" y2="171.3" stroke="#222" stroke-width="1.0"/>
<linearGradient id="g8" gradientUnits="userSpaceOnUse" x1="0" y1="62" x2="0" y2="322.6"><stop offset="0" stop-color="#707070"/><stop offset="0.0307" stop-color="#404040"/><stop offset="0.9962" stop-color="#404040"/><stop offset="1" stop-color="#404040"/></linearGradient>
<path d="M635.60,62.00 L635.62,62.50 L635.63,63.00 L635.64,63.50 L635.66,64.00 L635.67,64.50 L635.68,65.00 L635.69,65.50 L635.70,66.00 L635.71,66.50 L635.72,67.00 L635.72,67.50 L635.72,68.00 L635.72,68.50 L635.72,69.00 L635.72,69.50 L635.72,70.00 L635.72,70.50 L635.72,71.00 L635.72,71.50 L635.72,72.00 L635.72,72.50 L635.72,73.00 L635.72,73.50 L635.72,74.00 L635.73,74.50 L635.74,75.00 L635.75,75.50 L635.77,76.00 L635.79,76.50 L635.81,77.00 L635.83,77.50 L635.85,78.00 L635.88,78.50 L635.92,79.00 L635.98,79.50 L636.04,80.00 L636.11,80.50 L636.19,81.00 L636.27,81.50 L636.35,82.00 L636.43,82.50 L636.52,83.00 L636.60,83.50 L636.70,84.00 L636.79,84.50 L636.90,85.00 L637.01,85.50 L637.12,86.00 L637.23,86.50 L637.35,87.00 L637.47,87.50 L637.60,88.00 L637.73,88.50 L637.87,89.00 L638.02,89.50 L638.17,90.00 L638.32,90.50 L638.48,91.00 L638.65,91.50 L638.82,92.00 L639.00,92.50 L639.19,93.00 L639.39,93.50 L639.60,94.00 L639.81,94.50 L640.03,95.00 L640.25,95.50 L640.47,96.00 L640.69,96.50 L640.92,97.00 L641.15,97.50 L641.38,98.00 L641.61,98.50 L641.85,99.00 L642.09,99.50 L642.34,100.00 L642.59,100.50 L642.85,101.00 L643.11,101.50 L643.39,102.00 L643.67,102.50 L643.96,103.00 L644.25,103.50 L644.54,104.00 L644.83,104.50 L645.11,105.00 L645.39,105.50 L645.67,106.00 L645.95,106.50 L646.23,107.00 L646.51,107.50 L646.78,108.00 L647.05,108.50 L647.32,109.00 L647.59,109.50 L647.85,110.00 L648.10,110.50 L648.35,111.00 L648.60,111.50 L648.84,112.00 L649.08,112.50 L649.32,113.00 L649.55,113.50 L649.79,114.00 L650.01,114.50 L650.24,115.00 L650.47,115.50 L650.69,116.00 L650.92,116.50 L651.14,117.00 L651.35,117.50 L651.57,118.00 L651.77,118.50 L651.96,119.00 L652.15,119.50 L652.33,120.00 L652.52,120.50 L652.70,121.00 L652.89,121.50 L653.06,122.00 L653.23,122.50 L653.39,123.00 L653.53,123.50 L653.66,124.00 L653.77,124.50 L653.85,125.00 L653.92,125.50 L653.99,126.00 L654.05,126.50 L654.11,127.00 L654.16,127.50 L654.21,128.00 L654.23,128.50 L654.25,129.00 L654.24,129.50 L654.22,130.00 L654.16,130.50 L654.09,131.00 L654.01,131.50 L653.93,132.00 L653.84,132.50 L653.75,133.00 L653.66,133.50 L653.56,134.00 L653.46,134.50 L653.35,135.00 L653.23,135.50 L653.10,136.00 L652.98,136.50 L652.84,137.00 L652.70,137.50 L652.56,138.00 L652.42,138.50 L652.27,139.00 L652.11,139.50 L651.95,140.00 L651.77,140.50 L651.60,141.00 L651.41,141.50 L651.23,142.00 L651.04,142.50 L650.85,143.00 L650.66,143.50 L650.46,144.00 L650.25,144.50 L650.05,145.00 L649.84,145.50 L649.62,146.00 L649.41,146.50 L649.20,147.00 L648.99,147.50 L648.78,148.00 L648.58,148.50 L648.37,149.00 L648.17,149.50 L647.96,150.00 L647.75,150.50 L647.55,151.00 L647.34,151.50 L647.13,152.00 L646.93,152.50 L646.72,153.00 L646.51,153.50 L646.31,154.00 L646.10,154.50 L645.89,155.00 L645.69,155.50 L645.48,156.00 L645.27,156.50 L645.07,157.00 L644.86,157.50 L644.65,158.00 L644.44,158.50 L644.23,159.00 L644.02,159.50 L643.81,160.00 L643.61,160.50 L643.41,161.00 L643.21,161.50 L643.02,162.00 L642.83,162.50 L642.65,163.00 L642.47,163.50 L642.29,164.00 L642.10,164.50 L641.92,165.00 L641.74,165.50 L641.55,166.00 L641.36,166.50 L641.16,167.00 L640.96,167.50 L640.76,168.00 L640.56,168.50 L640.36,169.00 L640.17,169.50 L639.98,170.00 L639.79,170.50 L639.60,171.00 L639.42,171.50 L639.23,172.00 L639.05,172.50 L638.87,173.00 L638.69,173.50 L638.52,174.00 L638.36,174.50 L638.21,175.00 L638.07,175.50 L637.93,176.00 L637.79,176.50 L637.66,177.00 L637.53,177.50 L637.41,178.00 L637.30,178.50 L637.20,179.00 L637.10,179.50 L637.02,180.00 L636.94,180.50 L636.86,181.00 L636.79,181.50 L636.73,182.00 L636.67,182.50 L636.61,183.00 L636.55,183.50 L636.50,184.00 L636.45,184.50 L636.40,185.00 L636.35,185.50 L636.30,186.00 L636.25,186.50 L636.20,187.00 L636.15,187.50 L636.11,188.00 L636.07,188.50 L636.04,189.00 L636.02,189.50 L636.01,190.00 L636.00,190.50 L636.00,191.00 L636.00,191.50 L636.00,192.00 L636.00,192.50 L636.00,193.00 L636.00,193.50 L636.00,194.00 L636.00,194.50 L636.02,195.00 L636.04,195.50 L636.08,196.00 L636.12,196.50 L636.17,197.00 L636.22,197.50 L636.27,198.00 L636.32,198.50 L636.37,199.00 L636.43,199.50 L636.49,200.00 L636.56,200.50 L636.64,201.00 L636.71,201.50 L636.78,202.00 L636.85,202.50 L636.91,203.00 L636.96,203.50 L637.00,204.00 L637.04,204.50 L637.08,205.00 L637.12,205.50 L637.16,206.00 L637.19,206.50 L637.22,207.00 L637.26,207.50 L637.29,208.00 L637.32,208.50 L637.34,209.00 L637.37,209.50 L637.40,210.00 L637.43,210.50 L637.46,211.00 L637.49,211.50 L637.51,212.00 L637.54,212.50 L637.57,213.00 L637.60,213.50 L637.63,214.00 L637.66,214.50 L637.68,215.00 L637.71,215.50 L637.74,216.00 L637.76,216.50 L637.79,217.00 L637.82,217.50 L637.84,218.00 L637.87,218.50 L637.89,219.00 L637.92,219.50 L637.95,220.00 L637.98,220.50 L638.00,221.00 L638.03,221.50 L638.06,222.00 L638.09,222.50 L638.12,223.00 L638.15,223.50 L638.18,224.00 L638.21,224.50 L638.24,225.00 L638.27,225.50 L638.30,226.00 L638.33,226.50 L638.36,227.00 L638.39,227.50 L638.43,228.00 L638.46,228.50 L638.50,229.00 L638.53,229.50 L638.57,230.00 L638.61,230.50 L638.65,231.00 L638.69,231.50 L638.74,232.00 L638.79,232.50 L638.84,233.00 L638.90,233.50 L638.96,234.00 L639.02,234.50 L639.08,235.00 L639.14,235.50 L639.20,236.00 L639.26,236.50 L639.32,237.00 L639.38,237.50 L639.43,238.00 L639.49,238.50 L639.54,239.00 L639.59,239.50 L639.63,240.00 L639.68,240.50 L639.72,241.00 L639.77,241.50 L639.81,242.00 L639.86,242.50 L639.90,243.00 L639.94,243.50 L639.98,244.00 L640.01,244.50 L640.03,245.00 L640.04,245.50 L640.05,246.00 L640.05,246.50 L640.04,247.00 L640.04,247.50 L640.03,248.00 L640.02,248.50 L640.01,249.00 L640.00,249.50 L639.98,250.00 L639.97,250.50 L639.95,251.00 L639.93,251.50 L639.90,252.00 L639.87,252.50 L639.83,253.00 L639.78,253.50 L639.74,254.00 L639.69,254.50 L639.64,255.00 L639.59,255.50 L639.55,256.00 L639.51,256.50 L639.46,257.00 L639.41,257.50 L639.37,258.00 L639.32,258.50 L639.27,259.00 L639.22,259.50 L639.17,260.00 L639.12,260.50 L639.07,261.00 L639.02,261.50 L638.98,262.00 L638.93,262.50 L638.88,263.00 L638.84,263.50 L638.80,264.00 L638.76,264.50 L638.71,265.00 L638.67,265.50 L638.63,266.00 L638.59,266.50 L638.55,267.00 L638.51,267.50 L638.47,268.00 L638.43,268.50 L638.39,269.00 L638.35,269.50 L638.32,270.00 L638.28,270.50 L638.25,271.00 L638.22,271.50 L638.18,272.00 L638.16,272.50 L638.13,273.00 L638.10,273.50 L638.08,274.00 L638.05,274.50 L638.03,275.00 L638.01,275.50 L637.99,276.00 L637.97,276.50 L637.95,277.00 L637.93,277.50 L637.91,278.00 L637.89,278.50 L637.87,279.00 L637.85,279.50 L637.83,280.00 L637.81,280.50 L637.79,281.00 L637.76,281.50 L637.74,282.00 L637.72,282.50 L637.69,283.00 L637.66,283.50 L637.64,284.00 L637.61,284.50 L637.58,285.00 L637.56,285.50 L637.53,286.00 L637.50,286.50 L637.47,287.00 L637.45,287.50 L637.42,288.00 L637.39,288.50 L637.36,289.00 L637.33,289.50 L637.30,290.00 L637.28,290.50 L637.25,291.00 L637.22,291.50 L637.20,292.00 L637.17,292.50 L637.14,293.00 L637.12,293.50 L637.09,294.00 L637.06,294.50 L637.04,295.00 L637.01,295.50 L636.98,296.00 L636.96,296.50 L636.93,297.00 L636.90,297.50 L636.88,298.00 L636.85,298.50 L636.82,299.00 L636.79,299.50 L636.76,300.00 L636.73,300.50 L636.70,301.00 L636.67,301.50 L636.64,302.00 L636.61,302.50 L636.57,303.00 L636.54,303.50 L636.51,304.00 L636.47,304.50 L636.44,305.00 L636.41,305.50 L636.37,306.00 L636.34,306.50 L636.31,307.00 L636.27,307.50 L636.24,308.00 L636.21,308.50 L636.18,309.00 L636.15,309.50 L636.12,310.00 L636.09,310.50 L636.06,311.00 L636.03,311.50 L636.00,312.00 L635.97,312.50 L635.95,313.00 L635.92,313.50 L635.90,314.00 L635.87,314.50 L635.85,315.00 L635.83,315.50 L635.81,316.00 L635.79,316.50 L635.77,317.00 L635.75,317.50 L635.73,318.00 L635.72,318.50 L635.70,319.00 L635.68,319.50 L635.67,320.00 L635.65,320.50 L635.64,321.00 L635.62,321.50 L635.61,322.00 L635.60,322.50 L635.60,322.60 L635.60,322.60 L635.60,322.50 L635.59,322.00 L635.58,321.50 L635.56,321.00 L635.55,320.50 L635.53,320.00 L635.52,319.50 L635.50,319.00 L635.48,318.50 L635.47,318.00 L635.45,317.50 L635.43,317.00 L635.41,316.50 L635.39,316.00 L635.37,315.50 L635.35,315.00 L635.33,314.50 L635.30,314.00 L635.28,313.50 L635.25,313.00 L635.23,312.50 L635.20,312.00 L635.17,311.50 L635.14,311.00 L635.11,310.50 L635.08,310.00 L635.05,309.50 L635.02,309.00 L634.99,308.50 L634.96,308.00 L634.93,307.50 L634.89,307.00 L634.86,306.50 L634.83,306.00 L634.79,305.50 L634.76,305.00 L634.73,304.50 L634.69,304.00 L634.66,303.50 L634.63,303.00 L634.59,302.50 L634.56,302.00 L634.53,301.50 L634.50,301.00 L634.47,300.50 L634.44,300.00 L634.41,299.50 L634.38,299.00 L634.35,298.50 L634.32,298.00 L634.30,297.50 L634.27,297.00 L634.24,296.50 L634.22,296.00 L634.19,295.50 L634.16,295.00 L634.14,294.50 L634.11,294.00 L634.08,293.50 L634.06,293.00 L634.03,292.50 L634.00,292.00 L633.98,291.50 L633.95,291.00 L633.92,290.50 L633.90,290.00 L633.87,289.50 L633.84,289.00 L633.81,288.50 L633.78,288.00 L633.75,287.50 L633.73,287.00 L633.70,286.50 L633.67,286.00 L633.64,285.50 L633.62,285.00 L633.59,284.50 L633.56,284.00 L633.54,283.50 L633.51,283.00 L633.48,282.50 L633.46,282.00 L633.44,281.50 L633.41,281.00 L633.39,280.50 L633.37,280.00 L633.35,279.50 L633.33,279.00 L633.31,278.50 L633.29,278.00 L633.27,277.50 L633.25,277.00 L633.23,276.50 L633.21,276.00 L633.19,275.50 L633.17,275.00 L633.15,274.50 L633.12,274.00 L633.10,273.50 L633.07,273.00 L633.04,272.50 L633.02,272.00 L632.98,271.50 L632.95,271.00 L632.92,270.50 L632.88,270.00 L632.85,269.50 L632.81,269.00 L632.77,268.50 L632.73,268.00 L632.69,267.50 L632.65,267.00 L632.61,266.50 L632.57,266.00 L632.53,265.50 L632.49,265.00 L632.44,264.50 L632.40,264.00 L632.36,263.50 L632.32,263.00 L632.27,262.50 L632.22,262.00 L632.18,261.50 L632.13,261.00 L632.08,260.50 L632.03,260.00 L631.98,259.50 L631.93,259.00 L631.88,258.50 L631.83,258.00 L631.79,257.50 L631.74,257.00 L631.69,256.50 L631.65,256.00 L631.61,255.50 L631.56,255.00 L631.51,254.50 L631.46,254.00 L631.42,253.50 L631.37,253.00 L631.33,252.50 L631.30,252.00 L631.27,251.50 L631.25,251.00 L631.23,250.50 L631.22,250.00 L631.20,249.50 L631.19,249.00 L631.18,248.50 L631.17,248.00 L631.16,247.50 L631.16,247.00 L631.15,246.50 L631.15,246.00 L631.16,245.50 L631.17,245.00 L631.19,244.50 L631.22,244.00 L631.26,243.50 L631.30,243.00 L631.34,242.50 L631.39,242.00 L631.43,241.50 L631.48,241.00 L631.52,240.50 L631.57,240.00 L631.61,239.50 L631.66,239.00 L631.71,238.50 L631.77,238.00 L631.82,237.50 L631.88,237.00 L631.94,236.50 L632.00,236.00 L632.06,235.50 L632.12,235.00 L632.18,234.50 L632.24,234.00 L632.30,233.50 L632.36,233.00 L632.41,232.50 L632.46,232.00 L632.51,231.50 L632.55,231.00 L632.59,230.50 L632.63,230.00 L632.67,229.50 L632.70,229.00 L632.74,228.50 L632.77,228.00 L632.81,227.50 L632.84,227.00 L632.87,226.50 L632.90,226.00 L632.93,225.50 L632.96,225.00 L632.99,224.50 L633.02,224.00 L633.05,223.50 L633.08,223.00 L633.11,222.50 L633.14,222.00 L633.17,221.50 L633.20,221.00 L633.22,220.50 L633.25,220.00 L633.28,219.50 L633.31,219.00 L633.33,218.50 L633.36,218.00 L633.38,217.50 L633.41,217.00 L633.44,216.50 L633.46,216.00 L633.49,215.50 L633.52,215.00 L633.54,214.50 L633.57,214.00 L633.60,213.50 L633.63,213.00 L633.66,212.50 L633.69,212.00 L633.71,211.50 L633.74,211.00 L633.77,210.50 L633.80,210.00 L633.83,209.50 L633.86,209.00 L633.88,208.50 L633.91,208.00 L633.94,207.50 L633.98,207.00 L634.01,206.50 L634.04,206.00 L634.08,205.50 L634.12,205.00 L634.16,204.50 L634.20,204.00 L634.24,203.50 L634.29,203.00 L634.35,202.50 L634.42,202.00 L634.49,201.50 L634.56,201.00 L634.64,200.50 L634.71,200.00 L634.77,199.50 L634.83,199.00 L634.88,198.50 L634.93,198.00 L634.98,197.50 L635.03,197.00 L635.08,196.50 L635.12,196.00 L635.16,195.50 L635.18,195.00 L635.20,194.50 L635.20,194.00 L635.20,193.50 L635.20,193.00 L635.20,192.50 L635.20,192.00 L635.20,191.50 L635.20,191.00 L635.20,190.50 L635.19,190.00 L635.18,189.50 L635.16,189.00 L635.13,188.50 L635.09,188.00 L635.05,187.50 L635.00,187.00 L634.95,186.50 L634.90,186.00 L634.85,185.50 L634.80,185.00 L634.75,184.50 L634.70,184.00 L634.65,183.50 L634.59,183.00 L634.53,182.50 L634.47,182.00 L634.41,181.50 L634.34,181.00 L634.26,180.50 L634.18,180.00 L634.10,179.50 L634.00,179.00 L633.90,178.50 L633.79,178.00 L633.67,177.50 L633.54,177.00 L633.41,176.50 L633.27,176.00 L633.13,175.50 L632.99,175.00 L632.84,174.50 L632.68,174.00 L632.51,173.50 L632.33,173.00 L632.15,172.50 L631.97,172.00 L631.78,171.50 L631.60,171.00 L631.41,170.50 L631.22,170.00 L631.03,169.50 L630.84,169.00 L630.64,168.50 L630.44,168.00 L630.24,167.50 L630.04,167.00 L629.84,166.50 L629.65,166.00 L629.46,165.50 L629.28,165.00 L629.10,164.50 L628.91,164.00 L628.73,163.50 L628.55,163.00 L628.37,162.50 L628.18,162.00 L627.99,161.50 L627.79,161.00 L627.59,160.50 L627.39,160.00 L627.18,159.50 L626.97,159.00 L626.76,158.50 L626.55,158.00 L626.34,157.50 L626.13,157.00 L625.93,156.50 L625.72,156.00 L625.51,155.50 L625.31,155.00 L625.10,154.50 L624.89,154.00 L624.69,153.50 L624.48,153.00 L624.27,152.50 L624.07,152.00 L623.86,151.50 L623.65,151.00 L623.45,150.50 L623.24,150.00 L623.03,149.50 L622.83,149.00 L622.62,148.50 L622.42,148.00 L622.21,147.50 L622.00,147.00 L621.79,146.50 L621.58,146.00 L621.36,145.50 L621.15,145.00 L620.95,144.50 L620.74,144.00 L620.54,143.50 L620.35,143.00 L620.16,142.50 L619.97,142.00 L619.79,141.50 L619.60,141.00 L619.43,140.50 L619.25,140.00 L619.09,139.50 L618.93,139.00 L618.78,138.50 L618.64,138.00 L618.50,137.50 L618.36,137.00 L618.22,136.50 L618.10,136.00 L617.97,135.50 L617.85,135.00 L617.74,134.50 L617.64,134.00 L617.54,133.50 L617.45,133.00 L617.36,132.50 L617.27,132.00 L617.19,131.50 L617.11,131.00 L617.04,130.50 L616.98,130.00 L616.96,129.50 L616.95,129.00 L616.97,128.50 L616.99,128.00 L617.04,127.50 L617.09,127.00 L617.15,126.50 L617.21,126.00 L617.28,125.50 L617.35,125.00 L617.43,124.50 L617.54,124.00 L617.67,123.50 L617.81,123.00 L617.97,122.50 L618.14,122.00 L618.31,121.50 L618.50,121.00 L618.68,120.50 L618.87,120.00 L619.05,119.50 L619.24,119.00 L619.43,118.50 L619.63,118.00 L619.85,117.50 L620.06,117.00 L620.28,116.50 L620.51,116.00 L620.73,115.50 L620.96,115.00 L621.19,114.50 L621.41,114.00 L621.65,113.50 L621.88,113.00 L622.12,112.50 L622.36,112.00 L622.60,111.50 L622.85,111.00 L623.10,110.50 L623.35,110.00 L623.61,109.50 L623.88,109.00 L624.15,108.50 L624.42,108.00 L624.69,107.50 L624.97,107.00 L625.25,106.50 L625.53,106.00 L625.81,105.50 L626.09,105.00 L626.37,104.50 L626.66,104.00 L626.95,103.50 L627.24,103.00 L627.53,102.50 L627.81,102.00 L628.09,101.50 L628.35,101.00 L628.61,100.50 L628.86,100.00 L629.11,99.50 L629.35,99.00 L629.59,98.50 L629.82,98.00 L630.05,97.50 L630.28,97.00 L630.51,96.50 L630.73,96.00 L630.95,95.50 L631.17,95.00 L631.39,94.50 L631.60,94.00 L631.81,93.50 L632.01,93.00 L632.20,92.50 L632.38,92.00 L632.55,91.50 L632.72,91.00 L632.88,90.50 L633.03,90.00 L633.18,89.50 L633.33,89.00 L633.47,88.50 L633.60,88.00 L633.73,87.50 L633.85,87.00 L633.97,86.50 L634.08,86.00 L634.19,85.50 L634.30,85.00 L634.41,84.50 L634.50,84.00 L634.60,83.50 L634.68,83.00 L634.77,82.50 L634.85,82.00 L634.93,81.50 L635.01,81.00 L635.09,80.50 L635.16,80.00 L635.22,79.50 L635.28,79.00 L635.32,78.50 L635.35,78.00 L635.37,77.50 L635.39,77.00 L635.41,76.50 L635.43,76.00 L635.45,75.50 L635.46,75.00 L635.47,74.50 L635.48,74.00 L635.48,73.50 L635.48,73.00 L635.48,72.50 L635.48,72.00 L635.48,71.50 L635.48,71.00 L635.48,70.50 L635.48,70.00 L635.48,69.50 L635.48,69.00 L635.48,68.50 L635.48,68.00 L635.48,67.50 L635.48,67.00 L635.49,66.50 L635.50,66.00 L635.51,65.50 L635.52,65.00 L635.53,64.50 L635.54,64.00 L635.56,63.50 L635.57,63.00 L635.58,62.50 L635.60,62.00Z" fill="#f1e483" stroke="url(#g8)" stroke-width="0.85" stroke-linejoin="round"/>
<line x1="635.6" y1="102.9" x2="635.6" y2="160.1" stroke="#3a3a3a" stroke-width="0.75"/>
<rect x="633.95" y="123.7" width="3.3" height="36.40" fill="#fff" stroke="#3a3a3a" stroke-width="0.7"/>
<line x1="633.95" y1="136.2" x2="637.25" y2="136.2" stroke="#222" stroke-width="1.0"/>
<circle cx="635.6" cy="220.3" r="1.7" fill="#2a2a2a"/>
<circle cx="635.6" cy="282.2" r="1.7" fill="#2a2a2a"/>
<ellipse cx="635.9" cy="248.8" rx="1.8" ry="2.9" fill="#2a2a2a"/>
<rect x="452" y="18.5" width="56.5" height="70" fill="#fff"/>
<text transform="translate(455.50,31.20) scale(1.0,1.0)" font-family="Liberation Sans, sans-serif" font-size="12.8" font-weight="bold" fill="#000" stroke="#000" stroke-width="0.15">Group</text>
<rect x="458.4" y="37.50" width="10.8" height="10.3" fill="#5251fe" stroke="#3c3c3c" stroke-width="0.8"/>
<text transform="translate(477.00,46.00) scale(1.0,1.08)" font-family="Liberation Sans, sans-serif" font-size="9.3" fill="#111" stroke="#111" stroke-width="0.25">ASD</text>
<rect x="458.4" y="49.10" width="10.8" height="10.3" fill="#cd3e31" stroke="#3c3c3c" stroke-width="0.8"/>
<text transform="translate(477.00,57.60) scale(1.0,1.08)" font-family="Liberation Sans, sans-serif" font-size="9.3" fill="#111" stroke="#111" stroke-width="0.25">HC-c</text>
<rect x="458.4" y="60.60" width="10.8" height="10.3" fill="#769a57" stroke="#3c3c3c" stroke-width="0.8"/>
<text transform="translate(477.00,69.10) scale(1.0,1.08)" font-family="Liberation Sans, sans-serif" font-size="9.3" fill="#111" stroke="#111" stroke-width="0.25">HC-f</text>
<rect x="458.4" y="72.60" width="10.8" height="10.9" fill="#f1e483" stroke="#3c3c3c" stroke-width="0.8"/>
<text transform="translate(477.00,81.10) scale(1.0,1.08)" font-family="Liberation Sans, sans-serif" font-size="9.3" fill="#111" stroke="#111" stroke-width="0.25">HC-m</text>
<line x1="402.5" y1="15.5" x2="402.5" y2="337.4" stroke="#a0a0a0" stroke-width="1"/>
<line x1="402.5" y1="337.4" x2="674.6" y2="337.4" stroke="#606060" stroke-width="1.1"/>
<line x1="674.6" y1="15.5" x2="674.6" y2="337.4" stroke="#6a6a6a" stroke-width="1.1"/>
<line x1="402.5" y1="15.5" x2="674.6" y2="15.5" stroke="#505050" stroke-width="1.0"/>
<line x1="400.0" y1="46.0" x2="402.5" y2="46.0" stroke="#555" stroke-width="0.8"/>
<text transform="translate(392.50,50.20) scale(1.0,1.08)" font-family="Liberation Sans, sans-serif" font-size="13.0" text-anchor="end" fill="#111" stroke="#111" stroke-width="0.25">7.7</text>
<line x1="400.0" y1="106.2" x2="402.5" y2="106.2" stroke="#555" stroke-width="0.8"/>
<text transform="translate(392.30,111.70) scale(1.0,1.08)" font-family="Liberation Sans, sans-serif" font-size="13.0" text-anchor="end" fill="#111" stroke="#111" stroke-width="0.25">7.6</text>
<line x1="400.0" y1="166.3" x2="402.5" y2="166.3" stroke="#555" stroke-width="0.8"/>
<text transform="translate(391.50,170.65) scale(1.0,1.08)" font-family="Liberation Sans, sans-serif" font-size="13.0" text-anchor="end" fill="#111" stroke="#111" stroke-width="0.25">7.5</text>
<line x1="400.0" y1="226.5" x2="402.5" y2="226.5" stroke="#555" stroke-width="0.8"/>
<text transform="translate(392.00,231.55) scale(1.0,1.08)" font-family="Liberation Sans, sans-serif" font-size="13.0" text-anchor="end" fill="#111" stroke="#111" stroke-width="0.25">7.4</text>
<line x1="400.0" y1="286.6" x2="402.5" y2="286.6" stroke="#555" stroke-width="0.8"/>
<text transform="translate(390.50,291.70) scale(1.0,1.08)" font-family="Liberation Sans, sans-serif" font-size="13.0" text-anchor="end" fill="#111" stroke="#111" stroke-width="0.25">7.3</text>
<line x1="441.3" y1="337.4" x2="441.3" y2="339.4" stroke="#555" stroke-width="0.8"/>
<text transform="translate(440.90,356.90) scale(1.0,1.02)" font-family="Liberation Sans, sans-serif" font-size="13.0" text-anchor="middle" fill="#111" stroke="#111" stroke-width="0.25">ASD</text>
<line x1="506.0" y1="337.4" x2="506.0" y2="339.4" stroke="#555" stroke-width="0.8"/>
<text transform="translate(506.10,356.90) scale(1.0,1.02)" font-family="Liberation Sans, sans-serif" font-size="13.0" text-anchor="middle" fill="#111" stroke="#111" stroke-width="0.25">HC-c</text>
<line x1="570.8" y1="337.4" x2="570.8" y2="339.4" stroke="#555" stroke-width="0.8"/>
<text transform="translate(570.40,356.90) scale(1.0,1.02)" font-family="Liberation Sans, sans-serif" font-size="13.0" text-anchor="middle" fill="#111" stroke="#111" stroke-width="0.25">HC-f</text>
<line x1="635.6" y1="337.4" x2="635.6" y2="339.4" stroke="#555" stroke-width="0.8"/>
<text transform="translate(638.60,356.90) scale(1.0,1.02)" font-family="Liberation Sans, sans-serif" font-size="13.0" text-anchor="middle" fill="#111" stroke="#111" stroke-width="0.25">HC-m</text>
<text transform="translate(541.70,375.90) scale(1.0,1.0)" font-family="Liberation Sans, sans-serif" font-size="12.8" font-weight="bold" text-anchor="middle" fill="#000" stroke="#000" stroke-width="0.15">Group</text>
<text transform="translate(362.4,176.5) rotate(-90)" font-family="Liberation Sans, sans-serif" font-size="12.1" font-weight="bold" text-anchor="middle" fill="#000">Chao1</text>
<text transform="translate(402.20,12.70) scale(0.99,0.99)" font-family="Liberation Sans, sans-serif" font-size="16.3" fill="#000" stroke="#000" stroke-width="0.1">B</text>
</svg></body></html>
